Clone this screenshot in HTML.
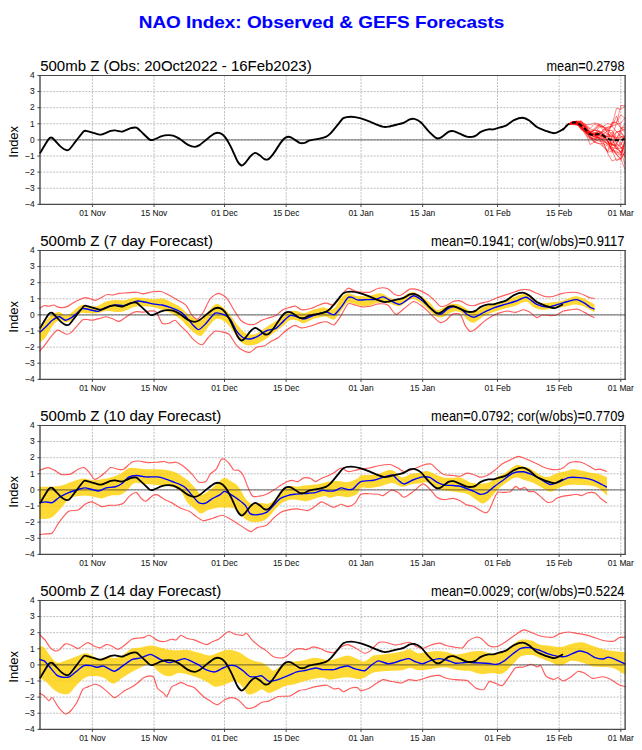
<!DOCTYPE html>
<html><head><meta charset="utf-8"><style>
html,body{margin:0;padding:0;background:#fff;}
svg{display:block;}
</style></head><body>
<svg width="642" height="750" viewBox="0 0 642 750">
<rect width="642" height="750" fill="#fff"/>
<text x="321.5" y="27.7" text-anchor="middle" font-family='"Liberation Sans", sans-serif' font-weight="bold" font-size="16.4" fill="#0000ff" stroke="#0000ff" stroke-width="0.1" textLength="365.5" lengthAdjust="spacingAndGlyphs">NAO Index: Observed &amp; GEFS Forecasts</text>
<g><path d="M40.0,188.24H625.1M40.0,172.12H625.1M40.0,156.01H625.1M40.0,139.90H625.1M40.0,123.79H625.1M40.0,107.68H625.1M40.0,91.56H625.1M92.40,75.5V204.4M154.05,75.5V204.4M224.50,75.5V204.4M286.15,75.5V204.4M361.00,75.5V204.4M422.65,75.5V204.4M497.51,75.5V204.4M559.15,75.5V204.4M620.80,75.5V204.4" stroke="#a8a8a8" stroke-width="0.75" stroke-dasharray="2,1.24" fill="none"/><path d="M563.20,129.18 L567.90,124.51 L572.50,122.69 L576.90,122.56 L581.30,123.03 L585.70,126.62 L590.10,134.36 L594.50,135.56 L598.90,137.61 L603.30,139.72 L607.70,143.15 L612.10,143.41 L616.50,131.49 L620.90,136.41 L625.00,138.72" stroke="#ff0000" stroke-opacity="0.8" stroke-width="0.6" fill="none"/><path d="M563.20,129.18 L567.90,124.51 L572.50,121.63 L576.90,121.09 L581.30,122.72 L585.70,127.61 L590.10,132.45 L594.50,133.90 L598.90,131.75 L603.30,134.10 L607.70,137.53 L612.10,131.85 L616.50,143.62 L620.90,146.46 L625.00,153.60" stroke="#ff0000" stroke-opacity="0.8" stroke-width="0.6" fill="none"/><path d="M563.20,129.18 L567.90,124.51 L572.50,122.61 L576.90,122.62 L581.30,127.00 L585.70,131.75 L590.10,135.58 L594.50,133.33 L598.90,131.49 L603.30,137.49 L607.70,136.11 L612.10,136.78 L616.50,139.51 L620.90,128.02 L625.00,127.12" stroke="#ff0000" stroke-opacity="0.8" stroke-width="0.6" fill="none"/><path d="M563.20,129.18 L567.90,124.51 L572.50,122.63 L576.90,122.64 L581.30,123.39 L585.70,128.76 L590.10,133.56 L594.50,130.04 L598.90,131.57 L603.30,135.36 L607.70,141.00 L612.10,150.04 L616.50,152.31 L620.90,152.09 L625.00,141.76" stroke="#ff0000" stroke-opacity="0.8" stroke-width="0.6" fill="none"/><path d="M563.20,129.18 L567.90,124.51 L572.50,122.54 L576.90,121.74 L581.30,122.11 L585.70,124.91 L590.10,133.09 L594.50,128.15 L598.90,123.96 L603.30,126.04 L607.70,133.66 L612.10,136.67 L616.50,123.11 L620.90,105.50 L625.00,105.69" stroke="#ff0000" stroke-opacity="0.8" stroke-width="0.6" fill="none"/><path d="M563.20,129.18 L567.90,124.51 L572.50,123.54 L576.90,124.39 L581.30,127.58 L585.70,132.32 L590.10,138.36 L594.50,142.49 L598.90,143.50 L603.30,146.69 L607.70,150.73 L612.10,138.71 L616.50,147.42 L620.90,153.05 L625.00,155.52" stroke="#ff0000" stroke-opacity="0.8" stroke-width="0.6" fill="none"/><path d="M563.20,129.18 L567.90,124.51 L572.50,123.44 L576.90,122.26 L581.30,124.60 L585.70,131.27 L590.10,132.95 L594.50,137.12 L598.90,137.95 L603.30,138.47 L607.70,141.62 L612.10,145.12 L616.50,145.71 L620.90,152.67 L625.00,146.80" stroke="#ff0000" stroke-opacity="0.8" stroke-width="0.6" fill="none"/><path d="M563.20,129.18 L567.90,124.51 L572.50,122.87 L576.90,122.34 L581.30,127.50 L585.70,135.29 L590.10,139.14 L594.50,135.83 L598.90,134.95 L603.30,135.47 L607.70,136.13 L612.10,144.92 L616.50,137.47 L620.90,145.24 L625.00,135.12" stroke="#ff0000" stroke-opacity="0.8" stroke-width="0.6" fill="none"/><path d="M563.20,129.18 L567.90,124.51 L572.50,123.64 L576.90,124.33 L581.30,127.99 L585.70,132.47 L590.10,137.81 L594.50,139.39 L598.90,138.40 L603.30,140.63 L607.70,144.77 L612.10,143.73 L616.50,148.82 L620.90,151.73 L625.00,164.57" stroke="#ff0000" stroke-opacity="0.8" stroke-width="0.6" fill="none"/><path d="M563.20,129.18 L567.90,124.51 L572.50,122.59 L576.90,122.67 L581.30,127.78 L585.70,131.06 L590.10,136.98 L594.50,141.71 L598.90,134.76 L603.30,131.38 L607.70,134.21 L612.10,135.95 L616.50,137.36 L620.90,133.29 L625.00,136.64" stroke="#ff0000" stroke-opacity="0.8" stroke-width="0.6" fill="none"/><path d="M563.20,129.18 L567.90,124.51 L572.50,124.55 L576.90,124.89 L581.30,126.30 L585.70,130.18 L590.10,134.57 L594.50,134.55 L598.90,127.19 L603.30,126.36 L607.70,132.24 L612.10,123.02 L616.50,122.29 L620.90,127.91 L625.00,132.67" stroke="#ff0000" stroke-opacity="0.8" stroke-width="0.6" fill="none"/><path d="M563.20,129.18 L567.90,124.51 L572.50,122.60 L576.90,122.45 L581.30,126.81 L585.70,133.66 L590.10,131.91 L594.50,134.78 L598.90,130.61 L603.30,134.46 L607.70,130.34 L612.10,130.53 L616.50,138.64 L620.90,136.53 L625.00,136.63" stroke="#ff0000" stroke-opacity="0.8" stroke-width="0.6" fill="none"/><path d="M563.20,129.18 L567.90,124.51 L572.50,122.79 L576.90,123.95 L581.30,129.37 L585.70,132.76 L590.10,144.58 L594.50,141.85 L598.90,143.59 L603.30,143.65 L607.70,146.03 L612.10,149.92 L616.50,151.22 L620.90,154.63 L625.00,142.70" stroke="#ff0000" stroke-opacity="0.8" stroke-width="0.6" fill="none"/><path d="M563.20,129.18 L567.90,124.51 L572.50,122.18 L576.90,121.54 L581.30,120.67 L585.70,127.96 L590.10,134.78 L594.50,138.61 L598.90,135.72 L603.30,136.84 L607.70,134.13 L612.10,138.45 L616.50,149.31 L620.90,142.02 L625.00,151.71" stroke="#ff0000" stroke-opacity="0.8" stroke-width="0.6" fill="none"/><path d="M563.20,129.18 L567.90,124.51 L572.50,121.47 L576.90,122.54 L581.30,125.10 L585.70,127.72 L590.10,133.67 L594.50,134.84 L598.90,138.04 L603.30,135.07 L607.70,141.47 L612.10,150.84 L616.50,160.75 L620.90,158.42 L625.00,151.98" stroke="#ff0000" stroke-opacity="0.8" stroke-width="0.6" fill="none"/><path d="M563.20,129.18 L567.90,124.51 L572.50,122.94 L576.90,124.02 L581.30,126.16 L585.70,124.54 L590.10,128.53 L594.50,124.04 L598.90,125.54 L603.30,127.93 L607.70,127.33 L612.10,126.22 L616.50,131.79 L620.90,131.29 L625.00,139.34" stroke="#ff0000" stroke-opacity="0.8" stroke-width="0.6" fill="none"/><path d="M563.20,129.18 L567.90,124.51 L572.50,123.90 L576.90,125.11 L581.30,126.23 L585.70,132.55 L590.10,132.82 L594.50,130.25 L598.90,124.80 L603.30,130.19 L607.70,127.12 L612.10,125.98 L616.50,124.38 L620.90,123.12 L625.00,117.74" stroke="#ff0000" stroke-opacity="0.8" stroke-width="0.6" fill="none"/><path d="M563.20,129.18 L567.90,124.51 L572.50,122.88 L576.90,123.34 L581.30,128.64 L585.70,132.27 L590.10,134.08 L594.50,132.83 L598.90,134.97 L603.30,129.50 L607.70,128.96 L612.10,134.97 L616.50,140.26 L620.90,139.26 L625.00,143.66" stroke="#ff0000" stroke-opacity="0.8" stroke-width="0.6" fill="none"/><path d="M563.20,129.18 L567.90,124.51 L572.50,121.76 L576.90,121.40 L581.30,126.50 L585.70,129.21 L590.10,131.91 L594.50,130.13 L598.90,125.75 L603.30,126.40 L607.70,123.53 L612.10,125.04 L616.50,108.26 L620.90,109.50 L625.00,105.50" stroke="#ff0000" stroke-opacity="0.8" stroke-width="0.6" fill="none"/><path d="M563.20,129.18 L567.90,124.51 L572.50,122.66 L576.90,121.18 L581.30,121.79 L585.70,126.65 L590.10,130.46 L594.50,132.55 L598.90,133.87 L603.30,137.65 L607.70,140.81 L612.10,149.10 L616.50,153.47 L620.90,155.57 L625.00,139.74" stroke="#ff0000" stroke-opacity="0.8" stroke-width="0.6" fill="none"/><path d="M563.20,129.18 L567.90,124.51 L572.50,122.64 L576.90,122.40 L581.30,130.05 L585.70,129.78 L590.10,135.91 L594.50,142.11 L598.90,139.25 L603.30,143.12 L607.70,152.52 L612.10,150.63 L616.50,154.30 L620.90,159.56 L625.00,151.99" stroke="#ff0000" stroke-opacity="0.8" stroke-width="0.6" fill="none"/><path d="M563.20,129.18 L567.90,124.51 L572.50,123.43 L576.90,123.49 L581.30,125.80 L585.70,127.39 L590.10,131.44 L594.50,133.82 L598.90,133.53 L603.30,131.23 L607.70,129.71 L612.10,147.34 L616.50,155.06 L620.90,158.46 L625.00,139.08" stroke="#ff0000" stroke-opacity="0.8" stroke-width="0.6" fill="none"/><path d="M563.20,129.18 L567.90,124.51 L572.50,124.03 L576.90,124.42 L581.30,127.05 L585.70,132.48 L590.10,132.57 L594.50,135.30 L598.90,135.56 L603.30,133.87 L607.70,141.03 L612.10,152.65 L616.50,142.57 L620.90,136.85 L625.00,137.65" stroke="#ff0000" stroke-opacity="0.8" stroke-width="0.6" fill="none"/><path d="M563.20,129.18 L567.90,124.51 L572.50,122.17 L576.90,123.74 L581.30,129.13 L585.70,130.27 L590.10,131.86 L594.50,136.26 L598.90,138.19 L603.30,146.59 L607.70,151.69 L612.10,144.54 L616.50,146.10 L620.90,129.92 L625.00,123.45" stroke="#ff0000" stroke-opacity="0.8" stroke-width="0.6" fill="none"/><path d="M563.20,129.18 L567.90,124.51 L572.50,122.34 L576.90,122.34 L581.30,126.29 L585.70,131.35 L590.10,137.90 L594.50,138.57 L598.90,137.21 L603.30,141.49 L607.70,143.54 L612.10,136.71 L616.50,132.07 L620.90,131.01 L625.00,129.01" stroke="#ff0000" stroke-opacity="0.8" stroke-width="0.6" fill="none"/><path d="M563.20,129.18 L567.90,124.51 L572.50,122.98 L576.90,122.97 L581.30,122.62 L585.70,127.80 L590.10,135.39 L594.50,136.62 L598.90,135.60 L603.30,138.50 L607.70,136.49 L612.10,122.17 L616.50,122.33 L620.90,114.76 L625.00,118.70" stroke="#ff0000" stroke-opacity="0.8" stroke-width="0.6" fill="none"/><path d="M563.20,129.18 L567.90,124.51 L572.50,122.12 L576.90,123.31 L581.30,125.16 L585.70,125.86 L590.10,128.91 L594.50,130.35 L598.90,131.05 L603.30,132.87 L607.70,140.66 L612.10,144.56 L616.50,144.16 L620.90,147.27 L625.00,157.62" stroke="#ff0000" stroke-opacity="0.8" stroke-width="0.6" fill="none"/><path d="M563.20,129.18 L567.90,124.51 L572.50,122.09 L576.90,122.08 L581.30,126.70 L585.70,130.08 L590.10,137.71 L594.50,139.34 L598.90,141.07 L603.30,141.34 L607.70,153.37 L612.10,161.01 L616.50,159.24 L620.90,158.82 L625.00,169.50" stroke="#ff0000" stroke-opacity="0.8" stroke-width="0.6" fill="none"/><path d="M563.20,129.18 L567.90,124.51 L572.50,123.54 L576.90,123.63 L581.30,123.51 L585.70,128.10 L590.10,133.96 L594.50,136.92 L598.90,138.34 L603.30,139.55 L607.70,144.82 L612.10,147.55 L616.50,148.74 L620.90,148.06 L625.00,145.12" stroke="#ff0000" stroke-opacity="0.8" stroke-width="0.6" fill="none"/><path d="M563.20,129.18 L567.90,124.51 L572.50,122.41 L576.90,122.50 L581.30,121.64 L585.70,124.67 L590.10,124.61 L594.50,123.04 L598.90,123.92 L603.30,127.30 L607.70,128.94 L612.10,126.27 L616.50,116.09 L620.90,127.83 L625.00,130.20" stroke="#ff0000" stroke-opacity="0.8" stroke-width="0.6" fill="none"/><path d="M40.0,139.90H625.1" stroke="#303030" stroke-opacity="0.7" stroke-width="1" fill="none"/><path d="M39.74,153.58 C40.76,151.93 47.01,141.21 48.46,139.38 C49.91,137.55 50.75,137.01 52.20,137.88 C53.65,138.75 59.26,145.43 60.92,146.85 C62.58,148.28 65.39,149.83 66.40,150.09 C67.42,150.36 68.54,150.14 69.64,149.10 C70.75,148.05 74.22,143.21 75.88,141.12 C77.53,139.03 82.40,132.29 83.85,131.15 C85.30,130.02 86.65,131.02 88.34,131.40 C90.02,131.78 96.71,134.04 98.31,134.39 C99.90,134.74 100.59,134.80 102.04,134.39 C103.50,133.99 109.23,131.37 110.77,130.90 C112.31,130.44 113.94,130.32 115.25,130.40 C116.56,130.49 120.18,131.91 121.98,131.65 C123.78,131.39 129.02,128.63 130.70,128.16 C132.39,127.70 135.27,127.31 136.44,127.66 C137.60,128.01 139.16,129.79 140.67,131.15 C142.18,132.52 147.94,138.36 149.40,139.38 C150.85,140.39 151.68,140.25 153.13,139.88 C154.59,139.50 160.11,136.69 161.86,136.14 C163.60,135.58 166.78,135.20 168.09,135.14 C169.40,135.08 171.76,135.23 173.07,135.64 C174.38,136.05 177.56,137.55 179.30,138.63 C181.05,139.71 186.20,143.90 188.02,144.86 C189.85,145.82 193.59,146.85 194.98,146.85 C196.38,146.85 198.52,145.82 199.97,144.86 C201.42,143.90 205.70,139.97 207.45,138.63 C209.19,137.29 213.47,134.04 214.92,133.40 C216.38,132.76 218.74,132.74 219.91,133.15 C221.07,133.55 223.58,135.23 224.89,136.88 C226.20,138.54 229.67,144.53 231.12,147.35 C232.58,150.17 236.13,158.94 237.35,161.06 C238.57,163.18 240.66,165.34 241.59,165.55 C242.52,165.75 244.28,163.91 245.33,162.80 C246.37,161.70 249.40,157.24 250.56,156.07 C251.72,154.91 254.22,152.92 255.30,152.83 C256.37,152.75 258.74,154.60 259.78,155.33 C260.83,156.05 263.25,158.63 264.27,159.07 C265.29,159.50 267.43,159.71 268.50,159.07 C269.58,158.43 272.04,155.53 273.49,153.58 C274.94,151.63 279.51,144.26 280.97,142.37 C282.42,140.48 284.79,137.96 285.95,137.38 C287.11,136.80 289.34,136.74 290.93,137.38 C292.53,138.02 298.06,142.23 299.66,142.87 C301.26,143.51 303.48,143.16 304.64,142.87 C305.80,142.58 307.88,140.87 309.63,140.37 C311.37,139.88 317.71,139.04 319.60,138.63 C321.48,138.22 324.52,137.52 325.83,136.88 C327.13,136.25 329.36,134.63 330.81,133.15 C332.26,131.66 336.83,125.92 338.29,124.17 C339.74,122.43 341.76,119.07 343.27,118.19 C344.78,117.32 349.27,116.70 351.21,116.70 C353.16,116.70 357.76,117.61 359.94,118.19 C362.12,118.77 367.87,120.90 369.91,121.68 C371.94,122.47 375.78,124.31 377.38,124.92 C378.98,125.53 382.31,126.71 383.61,126.92 C384.92,127.12 386.85,126.99 388.60,126.67 C390.34,126.35 396.82,124.61 398.57,124.17 C400.31,123.74 402.24,123.48 403.55,122.93 C404.86,122.38 408.53,119.90 409.78,119.44 C411.03,118.97 412.96,118.59 414.27,118.94 C415.58,119.29 419.34,121.01 421.00,122.43 C422.65,123.85 426.73,129.35 428.47,131.15 C430.22,132.96 434.58,137.10 435.95,137.88 C437.32,138.67 438.73,138.58 440.19,137.88 C441.64,137.18 446.87,132.69 448.41,131.90 C449.95,131.12 452.09,130.95 453.40,131.15 C454.70,131.36 458.09,133.01 459.63,133.64 C461.17,134.28 465.15,136.26 466.60,136.64 C468.06,137.01 471.01,137.00 472.09,136.88 C473.16,136.77 474.81,136.22 475.83,135.64 C476.84,135.06 479.36,132.63 480.81,131.90 C482.26,131.17 486.83,129.70 488.29,129.41 C489.74,129.12 492.18,129.55 493.27,129.41 C494.36,129.26 496.11,128.64 497.63,128.16 C499.16,127.68 504.45,126.27 506.35,125.32 C508.26,124.38 512.08,120.98 513.99,120.09 C515.89,119.20 520.93,117.64 522.71,117.69 C524.49,117.74 527.60,119.43 529.25,120.53 C530.90,121.62 534.97,125.87 536.88,127.07 C538.79,128.27 543.57,130.06 545.60,130.78 C547.64,131.49 552.29,133.35 554.33,133.17 C556.36,133.00 561.59,130.13 563.05,129.25 C564.50,128.37 566.36,126.03 566.80,125.60" stroke="#000" stroke-width="1.9" fill="none" stroke-linejoin="round"/><path d="M563.20,129.20 C563.20,129.20 562.64,129.75 563.18,129.21 C563.72,128.66 566.76,125.28 567.85,124.53 C568.94,123.78 571.57,123.03 572.52,122.78 C573.48,122.54 575.07,122.16 576.03,122.43 C576.98,122.70 579.61,124.33 580.70,125.12 C581.79,125.91 584.35,128.18 585.37,129.21 C586.40,130.23 588.51,133.20 589.46,133.88 C590.42,134.56 592.53,135.05 593.55,135.05 C594.57,135.05 597.27,133.95 598.22,133.88 C599.18,133.81 600.77,133.99 601.73,134.46 C602.68,134.94 605.31,137.35 606.40,137.97 C607.49,138.58 609.85,139.45 611.07,139.72 C612.30,139.99 615.69,140.30 616.92,140.30 C618.14,140.30 620.66,139.86 621.59,139.72 C622.52,139.58 624.48,139.20 624.86,139.14" stroke-dashoffset="-4.5" stroke="#000" stroke-width="2.0" stroke-dasharray="4.4,2.6" fill="none"/><path d="M40.00,74.90V204.90M625.10,74.90V204.90" stroke="#262626" stroke-width="1.15" fill="none"/><path d="M39.45,75.45H625.65M39.45,204.35H625.65" stroke="#484848" stroke-width="1.05" fill="none"/><path d="M37.4,204.35H40.0M37.4,188.24H40.0M37.4,172.12H40.0M37.4,156.01H40.0M37.4,139.90H40.0M37.4,123.79H40.0M37.4,107.68H40.0M37.4,91.56H40.0M37.4,75.45H40.0M92.40,204.4V207.0M154.05,204.4V207.0M224.50,204.4V207.0M286.15,204.4V207.0M361.00,204.4V207.0M422.65,204.4V207.0M497.51,204.4V207.0M559.15,204.4V207.0M620.80,204.4V207.0" stroke="#3a3a3a" stroke-width="0.9" fill="none"/><text x="34.7" y="207.15" text-anchor="end" font-family='"Liberation Sans", sans-serif' font-size="8.4" fill="#1a1a1a" stroke="#1a1a1a" stroke-width="0.08">−4</text><text x="34.7" y="191.04" text-anchor="end" font-family='"Liberation Sans", sans-serif' font-size="8.4" fill="#1a1a1a" stroke="#1a1a1a" stroke-width="0.08">−3</text><text x="34.7" y="174.93" text-anchor="end" font-family='"Liberation Sans", sans-serif' font-size="8.4" fill="#1a1a1a" stroke="#1a1a1a" stroke-width="0.08">−2</text><text x="34.7" y="158.81" text-anchor="end" font-family='"Liberation Sans", sans-serif' font-size="8.4" fill="#1a1a1a" stroke="#1a1a1a" stroke-width="0.08">−1</text><text x="34.7" y="142.70" text-anchor="end" font-family='"Liberation Sans", sans-serif' font-size="8.4" fill="#1a1a1a" stroke="#1a1a1a" stroke-width="0.08">0</text><text x="34.7" y="126.59" text-anchor="end" font-family='"Liberation Sans", sans-serif' font-size="8.4" fill="#1a1a1a" stroke="#1a1a1a" stroke-width="0.08">1</text><text x="34.7" y="110.48" text-anchor="end" font-family='"Liberation Sans", sans-serif' font-size="8.4" fill="#1a1a1a" stroke="#1a1a1a" stroke-width="0.08">2</text><text x="34.7" y="94.36" text-anchor="end" font-family='"Liberation Sans", sans-serif' font-size="8.4" fill="#1a1a1a" stroke="#1a1a1a" stroke-width="0.08">3</text><text x="34.7" y="78.25" text-anchor="end" font-family='"Liberation Sans", sans-serif' font-size="8.4" fill="#1a1a1a" stroke="#1a1a1a" stroke-width="0.08">4</text><text x="92.40" y="215.85" text-anchor="middle" font-family='"Liberation Sans", sans-serif' font-size="8.4" fill="#1a1a1a" stroke="#1a1a1a" stroke-width="0.08">01 Nov</text><text x="154.05" y="215.85" text-anchor="middle" font-family='"Liberation Sans", sans-serif' font-size="8.4" fill="#1a1a1a" stroke="#1a1a1a" stroke-width="0.08">15 Nov</text><text x="224.50" y="215.85" text-anchor="middle" font-family='"Liberation Sans", sans-serif' font-size="8.4" fill="#1a1a1a" stroke="#1a1a1a" stroke-width="0.08">01 Dec</text><text x="286.15" y="215.85" text-anchor="middle" font-family='"Liberation Sans", sans-serif' font-size="8.4" fill="#1a1a1a" stroke="#1a1a1a" stroke-width="0.08">15 Dec</text><text x="361.00" y="215.85" text-anchor="middle" font-family='"Liberation Sans", sans-serif' font-size="8.4" fill="#1a1a1a" stroke="#1a1a1a" stroke-width="0.08">01 Jan</text><text x="422.65" y="215.85" text-anchor="middle" font-family='"Liberation Sans", sans-serif' font-size="8.4" fill="#1a1a1a" stroke="#1a1a1a" stroke-width="0.08">15 Jan</text><text x="497.51" y="215.85" text-anchor="middle" font-family='"Liberation Sans", sans-serif' font-size="8.4" fill="#1a1a1a" stroke="#1a1a1a" stroke-width="0.08">01 Feb</text><text x="559.15" y="215.85" text-anchor="middle" font-family='"Liberation Sans", sans-serif' font-size="8.4" fill="#1a1a1a" stroke="#1a1a1a" stroke-width="0.08">15 Feb</text><text x="620.80" y="215.85" text-anchor="middle" font-family='"Liberation Sans", sans-serif' font-size="8.4" fill="#1a1a1a" stroke="#1a1a1a" stroke-width="0.08">01 Mar</text><text x="40.2" y="70.95" font-family='"Liberation Sans", sans-serif' font-size="14.8" fill="#000" stroke="#000" stroke-width="0.05" textLength="271.5" lengthAdjust="spacingAndGlyphs">500mb Z (Obs: 20Oct2022 - 16Feb2023)</text><text x="546.50" y="70.75" font-family='"Liberation Sans", sans-serif' font-size="14.8" fill="#000" stroke="#000" stroke-width="0.05" textLength="78.0" lengthAdjust="spacingAndGlyphs">mean=0.2798</text><text x="0" y="0" transform="translate(18.3,141.80) rotate(-90)" text-anchor="middle" font-family='"Liberation Sans", sans-serif' font-size="13.6" fill="#000" textLength="31.8" lengthAdjust="spacingAndGlyphs">Index</text></g>
<g><path d="M40.0,363.24H625.1M40.0,347.12H625.1M40.0,331.01H625.1M40.0,314.90H625.1M40.0,298.79H625.1M40.0,282.68H625.1M40.0,266.56H625.1M92.40,250.4V379.4M154.05,250.4V379.4M224.50,250.4V379.4M286.15,250.4V379.4M361.00,250.4V379.4M422.65,250.4V379.4M497.51,250.4V379.4M559.15,250.4V379.4M620.80,250.4V379.4" stroke="#a8a8a8" stroke-width="0.75" stroke-dasharray="2,1.24" fill="none"/><path d="M39.50,330.75 C40.48,329.19 43.20,324.13 45.35,321.40 C47.49,318.68 50.02,315.95 52.36,314.39 C54.69,312.83 57.03,311.86 59.36,312.06 C61.70,312.25 64.04,315.76 66.37,315.56 C68.71,315.37 70.85,312.64 73.38,310.89 C75.91,309.14 79.22,305.83 81.56,305.05 C83.90,304.27 84.87,306.02 87.40,306.21 C89.93,306.41 93.63,306.99 96.75,306.21 C99.86,305.44 102.98,302.59 106.09,301.54 C109.21,300.49 112.32,300.10 115.44,299.91 C118.55,299.71 121.67,300.76 124.79,300.37 C127.90,299.98 131.02,297.96 134.13,297.57 C137.25,297.18 140.36,297.76 143.48,298.04 C146.59,298.31 149.71,299.13 152.82,299.21 C155.94,299.28 159.05,298.00 162.17,298.50 C165.28,299.01 168.40,300.76 171.51,302.24 C174.63,303.72 178.28,305.55 180.86,307.38 C183.44,309.21 184.82,311.47 187.01,313.22 C189.20,314.98 191.68,316.73 194.02,317.90 C196.36,319.07 198.69,321.21 201.03,320.23 C203.36,319.26 205.51,314.78 208.04,312.06 C210.57,309.33 213.49,304.46 216.21,303.88 C218.94,303.29 221.86,306.41 224.39,308.55 C226.92,310.69 229.07,313.81 231.40,316.73 C233.74,319.65 236.07,323.35 238.41,326.07 C240.75,328.80 242.69,331.72 245.42,333.08 C248.15,334.45 251.65,335.03 254.77,334.25 C257.88,333.47 261.00,330.36 264.11,328.41 C267.23,326.46 270.34,324.52 273.46,322.57 C276.57,320.62 280.08,318.56 282.80,316.73 C285.53,314.90 287.48,312.56 289.81,311.59 C292.15,310.62 294.49,310.62 296.82,310.89 C299.16,311.16 301.11,313.42 303.83,313.22 C306.56,313.03 310.06,310.69 313.18,309.72 C316.29,308.75 320.22,307.58 322.52,307.38 C324.83,307.19 325.09,308.36 327.01,308.55 C328.93,308.75 331.68,310.30 334.02,308.55 C336.36,306.80 338.69,300.57 341.03,298.04 C343.36,295.51 345.70,293.75 348.04,293.36 C350.37,292.98 352.71,295.23 355.05,295.70 C357.38,296.17 359.52,296.17 362.06,296.17 C364.59,296.17 367.12,296.17 370.23,295.70 C373.35,295.23 377.44,292.98 380.75,293.36 C384.06,293.75 386.98,297.06 390.09,298.04 C393.21,299.01 395.93,300.18 399.44,299.21 C402.94,298.23 407.62,292.78 411.12,292.20 C414.63,291.61 417.35,293.95 420.47,295.70 C423.58,297.45 427.09,300.37 429.81,302.71 C432.54,305.05 434.49,308.94 436.82,309.72 C439.16,310.50 441.30,308.36 443.83,307.38 C446.36,306.41 449.28,304.27 452.01,303.88 C454.74,303.49 457.53,304.07 460.19,305.05 C462.84,306.02 465.55,308.59 467.94,309.72 C470.34,310.86 471.92,312.28 474.57,311.84 C477.21,311.40 480.52,308.53 483.83,307.08 C487.15,305.62 490.90,304.21 494.43,303.10 C497.96,302.00 501.49,301.56 505.02,300.46 C508.55,299.35 512.08,297.59 515.61,296.48 C519.15,295.38 523.12,293.39 526.21,293.83 C529.30,294.28 531.50,297.59 534.15,299.13 C536.80,300.68 539.01,302.57 542.10,303.10 C545.19,303.63 549.16,302.75 552.69,302.31 C556.22,301.87 559.75,301.43 563.28,300.46 C566.81,299.48 570.79,296.92 573.88,296.48 C576.97,296.04 579.17,296.92 581.82,297.81 C584.47,298.69 587.65,300.68 589.77,301.78 C591.89,302.88 593.74,303.99 594.53,304.43 L594.53,312.37 C593.74,311.93 591.89,310.83 589.77,309.72 C587.65,308.62 584.47,306.63 581.82,305.75 C579.17,304.87 576.97,304.21 573.88,304.43 C570.79,304.65 566.81,306.41 563.28,307.08 C559.75,307.74 556.22,307.96 552.69,308.40 C549.16,308.84 545.19,309.86 542.10,309.72 C539.01,309.59 536.80,308.93 534.15,307.61 C531.50,306.28 529.30,302.09 526.21,301.78 C523.12,301.47 519.15,304.65 515.61,305.75 C512.08,306.86 508.55,307.39 505.02,308.40 C501.49,309.42 497.96,310.52 494.43,311.84 C490.90,313.17 487.15,314.58 483.83,316.35 C480.52,318.11 477.21,321.77 474.57,322.44 C471.92,323.10 470.34,322.05 467.94,320.32 C465.55,318.59 462.84,313.43 460.19,312.06 C457.53,310.68 454.74,311.28 452.01,312.06 C449.28,312.83 446.36,315.95 443.83,316.73 C441.30,317.51 439.16,317.70 436.82,316.73 C434.49,315.76 432.54,313.22 429.81,310.89 C427.09,308.55 423.58,304.66 420.47,302.71 C417.35,300.76 414.63,298.62 411.12,299.21 C407.62,299.79 403.33,305.63 399.44,306.21 C395.55,306.80 391.26,303.29 387.76,302.71 C384.25,302.13 381.92,302.13 378.41,302.71 C374.91,303.29 370.23,305.83 366.73,306.21 C363.22,306.60 360.50,305.63 357.38,305.05 C354.27,304.46 350.76,301.74 348.04,302.71 C345.31,303.68 343.36,308.08 341.03,310.89 C338.69,313.69 336.36,318.56 334.02,319.53 C331.68,320.51 328.93,317.20 327.01,316.73 C325.09,316.26 324.83,316.34 322.52,316.73 C320.22,317.12 316.29,317.98 313.18,319.07 C310.06,320.16 306.56,323.08 303.83,323.27 C301.11,323.47 299.16,320.74 296.82,320.23 C294.49,319.73 292.15,319.26 289.81,320.23 C287.48,321.21 285.53,323.93 282.80,326.07 C280.08,328.22 276.57,330.75 273.46,333.08 C270.34,335.42 267.23,338.15 264.11,340.09 C261.00,342.04 257.88,343.99 254.77,344.77 C251.65,345.55 248.15,345.74 245.42,344.77 C242.69,343.79 240.75,341.65 238.41,338.93 C236.07,336.20 233.74,331.33 231.40,328.41 C229.07,325.49 226.92,322.96 224.39,321.40 C221.86,319.84 218.94,318.09 216.21,319.07 C213.49,320.04 210.57,324.44 208.04,327.24 C205.51,330.05 203.36,334.99 201.03,335.89 C198.69,336.78 196.36,334.25 194.02,332.62 C191.68,330.98 189.20,328.26 187.01,326.07 C184.82,323.89 183.44,321.67 180.86,319.53 C178.28,317.39 174.63,314.86 171.51,313.22 C168.40,311.59 165.28,310.77 162.17,309.72 C159.05,308.67 155.94,307.50 152.82,306.92 C149.71,306.33 146.59,306.21 143.48,306.21 C140.36,306.21 137.25,306.14 134.13,306.92 C131.02,307.69 127.90,310.03 124.79,310.89 C121.67,311.74 118.55,312.06 115.44,312.06 C112.32,312.06 109.21,310.69 106.09,310.89 C102.98,311.08 99.86,312.83 96.75,313.22 C93.63,313.61 90.13,313.22 87.40,313.22 C84.68,313.22 82.73,312.25 80.39,313.22 C78.06,314.20 75.72,317.51 73.38,319.07 C71.05,320.62 68.71,322.38 66.37,322.57 C64.04,322.76 61.70,319.65 59.36,320.23 C57.03,320.82 54.69,323.15 52.36,326.07 C50.02,329.00 47.49,335.03 45.35,337.76 C43.20,340.48 40.48,341.65 39.50,342.43 Z" fill="#ffd000" fill-opacity="0.8" stroke="none"/><path d="M39.50,308.55 C40.05,308.20 43.09,305.79 44.18,305.51 C45.27,305.24 47.76,306.27 48.85,306.21 C49.94,306.16 52.30,304.91 53.52,305.05 C54.75,305.18 57.87,307.17 59.36,307.38 C60.86,307.60 64.74,307.46 66.37,306.92 C68.01,306.37 71.75,303.61 73.38,302.71 C75.02,301.81 79.03,299.81 80.39,299.21 C81.76,298.61 83.98,297.65 85.07,297.57 C86.16,297.49 88.51,298.18 89.74,298.50 C90.96,298.83 94.22,300.48 95.58,300.37 C96.94,300.26 100.06,298.25 101.42,297.57 C102.78,296.89 105.90,294.83 107.26,294.53 C108.62,294.23 111.74,295.14 113.10,295.00 C114.47,294.86 117.31,293.61 118.94,293.36 C120.58,293.12 125.08,293.03 127.12,292.90 C129.17,292.76 134.56,292.09 136.47,292.20 C138.38,292.31 141.57,293.89 143.48,293.83 C145.38,293.78 150.78,292.00 152.82,291.73 C154.87,291.46 159.36,291.22 161.00,291.50 C162.64,291.77 165.07,293.17 166.84,294.07 C168.61,294.96 173.97,297.92 176.19,299.21 C178.40,300.49 184.03,303.22 185.84,305.05 C187.65,306.87 190.32,313.22 191.68,314.86 C193.05,316.50 196.16,319.39 197.52,319.07 C198.89,318.74 201.87,314.45 203.36,312.06 C204.86,309.66 208.60,300.69 210.37,298.50 C212.15,296.32 216.64,293.42 218.55,293.36 C220.46,293.31 224.96,296.13 226.73,298.04 C228.50,299.95 232.10,307.13 233.74,309.72 C235.37,312.31 239.11,318.54 240.75,320.23 C242.38,321.92 246.12,323.74 247.76,324.21 C249.39,324.67 253.13,324.67 254.77,324.21 C256.40,323.74 260.14,320.97 261.78,320.23 C263.41,319.50 267.15,318.44 268.79,317.90 C270.42,317.35 274.16,316.51 275.79,315.56 C277.43,314.61 281.17,310.67 282.80,309.72 C284.44,308.77 288.31,307.79 289.81,307.38 C291.31,306.97 294.29,305.94 295.65,306.21 C297.02,306.49 299.72,309.45 301.50,309.72 C303.27,309.99 308.93,309.04 310.84,308.55 C312.75,308.06 316.35,306.11 317.85,305.51 C319.35,304.91 322.62,303.68 323.69,303.41 C324.76,303.14 325.80,302.99 327.01,303.18 C328.21,303.37 332.38,305.92 334.02,305.05 C335.65,304.17 339.39,297.66 341.03,295.70 C342.66,293.74 346.40,288.77 348.04,288.22 C349.67,287.68 353.41,290.56 355.05,291.03 C356.68,291.49 360.28,292.06 362.06,292.20 C363.83,292.33 368.33,292.66 370.23,292.20 C372.14,291.73 376.37,288.63 378.41,288.22 C380.46,287.82 385.85,287.96 387.76,288.69 C389.67,289.43 393.27,293.77 394.77,294.53 C396.27,295.30 398.84,295.86 400.61,295.23 C402.38,294.61 407.91,289.79 409.95,289.16 C412.00,288.53 416.09,289.23 418.13,289.86 C420.18,290.49 425.57,293.31 427.48,294.53 C429.38,295.76 432.99,299.01 434.49,300.37 C435.99,301.74 438.96,305.62 440.33,306.21 C441.69,306.81 444.67,306.06 446.17,305.51 C447.67,304.97 451.54,302.09 453.18,301.54 C454.81,301.00 458.62,300.50 460.19,300.84 C461.76,301.18 465.10,303.86 466.62,304.43 C468.14,305.00 471.54,305.91 473.24,305.75 C474.94,305.60 479.33,303.63 481.19,303.10 C483.04,302.58 487.28,301.87 489.13,301.25 C490.99,300.63 495.22,298.52 497.08,297.81 C498.93,297.10 503.17,295.78 505.02,295.16 C506.88,294.54 511.11,293.13 512.97,292.51 C514.82,291.89 519.06,290.17 520.91,289.86 C522.76,289.55 527.00,289.46 528.86,289.86 C530.71,290.26 534.95,292.53 536.80,293.31 C538.65,294.08 542.89,296.11 544.75,296.48 C546.60,296.85 550.84,296.79 552.69,296.48 C554.54,296.17 558.78,294.30 560.64,293.83 C562.49,293.37 566.73,292.67 568.58,292.51 C570.43,292.36 574.67,292.20 576.53,292.51 C578.38,292.82 582.93,294.54 584.47,295.16 C586.02,295.78 588.59,297.44 589.77,297.81 C590.94,298.18 593.98,298.28 594.53,298.34" stroke="#ff4040" stroke-opacity="0.85" stroke-width="1.15" fill="none"/><path d="M39.50,351.31 C40.19,350.49 44.12,345.88 45.35,344.30 C46.57,342.72 48.66,339.39 50.02,337.76 C51.38,336.12 55.67,330.96 57.03,330.28 C58.39,329.60 60.61,331.45 61.70,331.92 C62.79,332.38 65.28,334.17 66.37,334.25 C67.46,334.33 69.82,333.57 71.05,332.62 C72.27,331.66 75.52,327.57 76.89,326.07 C78.25,324.58 81.50,320.53 82.73,319.77 C83.96,319.00 86.31,319.48 87.40,319.53 C88.49,319.59 90.71,320.34 92.07,320.23 C93.44,320.12 97.45,319.01 99.08,318.60 C100.72,318.19 104.46,316.67 106.09,316.73 C107.73,316.78 111.60,318.52 113.10,319.07 C114.60,319.61 117.58,321.54 118.94,321.40 C120.31,321.27 123.29,318.85 124.79,317.90 C126.28,316.94 130.43,313.96 131.79,313.22 C133.16,312.49 135.10,311.73 136.47,311.59 C137.83,311.45 141.84,312.14 143.48,312.06 C145.11,311.97 148.99,310.89 150.49,310.89 C151.99,310.89 154.96,310.61 156.33,312.06 C157.69,313.50 160.67,321.96 162.17,323.27 C163.67,324.58 167.68,323.63 169.18,323.27 C170.68,322.92 173.66,319.91 175.02,320.23 C176.38,320.56 179.46,324.71 180.86,326.07 C182.26,327.44 185.47,330.28 187.01,331.92 C188.54,333.55 192.25,338.59 194.02,340.09 C195.79,341.59 200.56,345.04 202.20,344.77 C203.83,344.49 206.54,339.34 208.04,337.76 C209.54,336.18 213.41,331.90 215.05,331.21 C216.68,330.53 220.42,331.56 222.06,331.92 C223.69,332.27 227.43,332.75 229.07,334.25 C230.70,335.75 234.44,342.86 236.07,344.77 C237.71,346.67 241.45,349.74 243.08,350.61 C244.72,351.48 248.46,352.65 250.09,352.24 C251.73,351.83 255.47,347.84 257.10,347.10 C258.74,346.37 262.48,346.62 264.11,345.93 C265.75,345.25 269.49,342.22 271.12,341.26 C272.76,340.31 276.50,338.93 278.13,337.76 C279.77,336.58 283.23,332.66 285.14,331.21 C287.05,329.77 292.58,325.76 294.49,325.37 C296.39,324.99 299.59,327.86 301.50,327.94 C303.40,328.03 308.66,326.70 310.84,326.07 C313.02,325.45 318.30,323.06 320.19,322.57 C322.07,322.08 325.40,321.60 327.01,321.87 C328.62,322.14 332.38,325.64 334.02,324.91 C335.65,324.17 339.39,318.01 341.03,315.56 C342.66,313.11 346.40,305.11 348.04,303.88 C349.67,302.65 353.41,304.69 355.05,305.05 C356.68,305.40 360.28,306.78 362.06,306.92 C363.83,307.05 368.33,306.57 370.23,306.21 C372.14,305.86 376.37,304.01 378.41,303.88 C380.46,303.74 385.71,303.82 387.76,305.05 C389.80,306.27 394.03,313.98 395.93,314.39 C397.84,314.80 402.07,310.05 404.11,308.55 C406.16,307.05 411.55,301.95 413.46,301.54 C415.37,301.13 418.83,303.96 420.47,305.05 C422.10,306.14 425.84,309.39 427.48,310.89 C429.11,312.39 432.99,316.53 434.49,317.90 C435.99,319.26 438.96,322.30 440.33,322.57 C441.69,322.84 444.81,321.19 446.17,320.23 C447.53,319.28 450.37,315.07 452.01,314.39 C453.64,313.71 458.64,313.08 460.19,314.39 C461.74,315.70 464.08,323.63 465.30,325.61 C466.51,327.60 469.36,331.07 470.59,331.44 C471.83,331.81 474.34,329.94 475.89,328.79 C477.43,327.65 481.98,323.09 483.83,321.64 C485.69,320.19 489.93,317.36 491.78,316.35 C493.63,315.33 497.87,313.52 499.72,312.90 C501.58,312.28 505.82,311.11 507.67,311.05 C509.52,310.99 513.76,312.53 515.61,312.37 C517.47,312.22 521.86,309.72 523.56,309.72 C525.26,309.72 528.64,311.45 530.18,312.37 C531.72,313.30 535.41,317.36 536.80,317.67 C538.19,317.98 540.55,315.27 542.10,315.02 C543.64,314.77 548.34,315.55 550.04,315.55 C551.74,315.55 555.12,315.55 556.66,315.02 C558.21,314.50 561.58,311.67 563.28,311.05 C564.98,310.43 569.53,309.94 571.23,309.72 C572.93,309.51 576.30,308.89 577.85,309.19 C579.39,309.50 583.08,311.63 584.47,312.37 C585.86,313.11 588.59,314.93 589.77,315.55 C590.94,316.17 593.98,317.42 594.53,317.67" stroke="#ff4040" stroke-opacity="0.85" stroke-width="1.15" fill="none"/><path d="M40.0,314.90H625.1" stroke="#303030" stroke-opacity="0.7" stroke-width="1" fill="none"/><path d="M39.50,332.62 C40.19,331.99 43.85,328.69 45.35,327.24 C46.85,325.80 50.72,321.46 52.36,320.23 C53.99,319.01 57.87,316.73 59.36,316.73 C60.86,316.73 63.84,320.10 65.21,320.23 C66.57,320.37 69.68,318.71 71.05,317.90 C72.41,317.08 75.52,314.31 76.89,313.22 C78.25,312.13 81.23,308.96 82.73,308.55 C84.23,308.14 87.97,309.39 89.74,309.72 C91.51,310.05 96.01,311.63 97.92,311.36 C99.82,311.08 104.05,308.12 106.09,307.38 C108.14,306.65 113.26,305.26 115.44,305.05 C117.62,304.83 122.33,305.98 124.79,305.51 C127.24,305.05 134.01,301.46 136.47,301.07 C138.92,300.69 143.90,301.92 145.81,302.24 C147.72,302.57 150.91,303.55 152.82,303.88 C154.73,304.21 159.99,304.58 162.17,305.05 C164.35,305.51 169.33,307.03 171.51,307.85 C173.69,308.67 179.05,310.88 180.86,312.06 C182.67,313.23 185.61,316.40 187.01,317.90 C188.41,319.40 191.49,323.54 192.85,324.91 C194.21,326.27 197.19,329.72 198.69,329.58 C200.19,329.44 203.79,325.65 205.70,323.74 C207.61,321.83 213.00,314.31 215.05,313.22 C217.09,312.13 221.45,313.71 223.22,314.39 C225.00,315.07 228.73,317.21 230.23,319.07 C231.73,320.92 234.58,328.10 236.07,330.28 C237.57,332.46 241.45,336.75 243.08,337.76 C244.72,338.77 248.46,339.06 250.09,338.93 C251.73,338.79 255.19,337.54 257.10,336.59 C259.01,335.63 264.27,331.70 266.45,330.75 C268.63,329.79 273.89,329.45 275.79,328.41 C277.70,327.38 281.17,323.37 282.80,321.87 C284.44,320.37 288.18,316.16 289.81,315.56 C291.45,314.96 295.19,316.32 296.82,316.73 C298.46,317.14 301.92,319.20 303.83,319.07 C305.74,318.93 311.00,316.30 313.18,315.56 C315.36,314.82 320.91,313.17 322.52,312.76 C324.14,312.35 325.67,311.81 327.01,312.06 C328.35,312.30 332.38,315.40 334.02,314.86 C335.65,314.31 339.39,309.40 341.03,307.38 C342.66,305.37 346.67,298.71 348.04,297.57 C349.40,296.43 351.62,297.30 352.71,297.57 C353.80,297.84 355.75,299.66 357.38,299.91 C359.02,300.15 364.55,299.75 366.73,299.67 C368.91,299.59 374.17,299.53 376.07,299.21 C377.98,298.88 381.45,296.73 383.08,296.87 C384.72,297.01 388.19,299.50 390.09,300.37 C392.00,301.25 397.53,304.35 399.44,304.35 C401.35,304.35 404.81,301.38 406.45,300.37 C408.08,299.37 411.82,295.84 413.46,295.70 C415.09,295.56 418.56,297.84 420.47,299.21 C422.38,300.57 427.90,305.75 429.81,307.38 C431.72,309.02 435.46,312.46 436.82,313.22 C438.19,313.99 440.27,314.39 441.50,313.93 C442.72,313.46 445.97,310.07 447.34,309.25 C448.70,308.43 451.68,307.00 453.18,306.92 C454.68,306.83 458.46,307.61 460.19,308.55 C461.91,309.50 466.27,314.02 467.94,315.02 C469.62,316.02 472.71,317.45 474.57,317.14 C476.42,316.83 481.52,313.49 483.83,312.37 C486.15,311.26 491.96,308.53 494.43,307.61 C496.90,306.68 502.55,305.17 505.02,304.43 C507.49,303.69 513.14,302.08 515.61,301.25 C518.09,300.42 523.74,296.91 526.21,297.28 C528.68,297.65 534.33,303.28 536.80,304.43 C539.27,305.57 544.92,307.08 547.39,307.08 C549.87,307.08 555.52,305.11 557.99,304.43 C560.46,303.75 566.42,301.81 568.58,301.25 C570.74,300.69 574.67,299.44 576.53,299.66 C578.38,299.88 582.93,302.24 584.47,303.10 C586.02,303.97 588.59,306.37 589.77,307.08 C590.94,307.79 593.98,308.95 594.53,309.19" stroke="#0000ff" stroke-width="1.4" fill="none"/><path d="M39.74,328.58 C40.76,326.93 47.01,316.21 48.46,314.38 C49.91,312.55 50.75,312.01 52.20,312.88 C53.65,313.75 59.26,320.43 60.92,321.85 C62.58,323.28 65.39,324.83 66.40,325.09 C67.42,325.36 68.54,325.14 69.64,324.10 C70.75,323.05 74.22,318.21 75.88,316.12 C77.53,314.03 82.40,307.29 83.85,306.15 C85.30,305.02 86.65,306.02 88.34,306.40 C90.02,306.78 96.71,309.04 98.31,309.39 C99.90,309.74 100.59,309.80 102.04,309.39 C103.50,308.99 109.23,306.37 110.77,305.90 C112.31,305.44 113.94,305.32 115.25,305.40 C116.56,305.49 120.18,306.91 121.98,306.65 C123.78,306.39 129.02,303.63 130.70,303.16 C132.39,302.70 135.27,302.31 136.44,302.66 C137.60,303.01 139.16,304.79 140.67,306.15 C142.18,307.52 147.94,313.36 149.40,314.38 C150.85,315.39 151.68,315.25 153.13,314.88 C154.59,314.50 160.11,311.69 161.86,311.14 C163.60,310.58 166.78,310.20 168.09,310.14 C169.40,310.08 171.76,310.23 173.07,310.64 C174.38,311.05 177.56,312.55 179.30,313.63 C181.05,314.71 186.20,318.90 188.02,319.86 C189.85,320.82 193.59,321.85 194.98,321.85 C196.38,321.85 198.52,320.82 199.97,319.86 C201.42,318.90 205.70,314.97 207.45,313.63 C209.19,312.29 213.47,309.04 214.92,308.40 C216.38,307.76 218.74,307.74 219.91,308.15 C221.07,308.55 223.58,310.23 224.89,311.88 C226.20,313.54 229.67,319.53 231.12,322.35 C232.58,325.17 236.13,333.94 237.35,336.06 C238.57,338.18 240.66,340.34 241.59,340.55 C242.52,340.75 244.28,338.91 245.33,337.80 C246.37,336.70 249.40,332.24 250.56,331.07 C251.72,329.91 254.22,327.92 255.30,327.83 C256.37,327.75 258.74,329.60 259.78,330.33 C260.83,331.05 263.25,333.63 264.27,334.07 C265.29,334.50 267.43,334.71 268.50,334.07 C269.58,333.43 272.04,330.53 273.49,328.58 C274.94,326.63 279.51,319.26 280.97,317.37 C282.42,315.48 284.79,312.96 285.95,312.38 C287.11,311.80 289.34,311.74 290.93,312.38 C292.53,313.02 298.06,317.23 299.66,317.87 C301.26,318.51 303.48,318.16 304.64,317.87 C305.80,317.58 307.88,315.87 309.63,315.37 C311.37,314.88 317.71,314.04 319.60,313.63 C321.48,313.22 324.52,312.52 325.83,311.88 C327.13,311.25 329.36,309.63 330.81,308.15 C332.26,306.66 336.83,300.92 338.29,299.17 C339.74,297.43 341.76,294.07 343.27,293.19 C344.78,292.32 349.27,291.70 351.21,291.70 C353.16,291.70 357.76,292.61 359.94,293.19 C362.12,293.77 367.87,295.90 369.91,296.68 C371.94,297.47 375.78,299.31 377.38,299.92 C378.98,300.53 382.31,301.71 383.61,301.92 C384.92,302.12 386.85,301.99 388.60,301.67 C390.34,301.35 396.82,299.61 398.57,299.17 C400.31,298.74 402.24,298.48 403.55,297.93 C404.86,297.38 408.53,294.90 409.78,294.44 C411.03,293.97 412.96,293.59 414.27,293.94 C415.58,294.29 419.34,296.01 421.00,297.43 C422.65,298.85 426.73,304.35 428.47,306.15 C430.22,307.96 434.58,312.10 435.95,312.88 C437.32,313.67 438.73,313.58 440.19,312.88 C441.64,312.18 446.87,307.69 448.41,306.90 C449.95,306.12 452.09,305.95 453.40,306.15 C454.70,306.36 458.09,308.01 459.63,308.64 C461.17,309.28 465.15,311.26 466.60,311.64 C468.06,312.01 471.01,312.00 472.09,311.88 C473.16,311.77 474.81,311.22 475.83,310.64 C476.84,310.06 479.36,307.63 480.81,306.90 C482.26,306.17 486.83,304.70 488.29,304.41 C489.74,304.12 492.18,304.55 493.27,304.41 C494.36,304.26 496.11,303.64 497.63,303.16 C499.16,302.68 504.45,301.27 506.35,300.32 C508.26,299.38 512.08,295.98 513.99,295.09 C515.89,294.20 520.93,292.64 522.71,292.69 C524.49,292.74 527.60,294.43 529.25,295.53 C530.90,296.62 534.97,300.87 536.88,302.07 C538.79,303.27 543.57,305.06 545.60,305.78 C547.64,306.49 552.29,308.35 554.33,308.17 C556.36,308.00 562.03,304.71 563.05,304.25" stroke="#000" stroke-width="1.8" fill="none" stroke-linejoin="round"/><path d="M40.00,249.90V379.90M625.10,249.90V379.90" stroke="#262626" stroke-width="1.15" fill="none"/><path d="M39.45,250.45H625.65M39.45,379.35H625.65" stroke="#484848" stroke-width="1.05" fill="none"/><path d="M37.4,379.35H40.0M37.4,363.24H40.0M37.4,347.12H40.0M37.4,331.01H40.0M37.4,314.90H40.0M37.4,298.79H40.0M37.4,282.68H40.0M37.4,266.56H40.0M37.4,250.45H40.0M92.40,379.4V382.0M154.05,379.4V382.0M224.50,379.4V382.0M286.15,379.4V382.0M361.00,379.4V382.0M422.65,379.4V382.0M497.51,379.4V382.0M559.15,379.4V382.0M620.80,379.4V382.0" stroke="#3a3a3a" stroke-width="0.9" fill="none"/><text x="34.7" y="382.15" text-anchor="end" font-family='"Liberation Sans", sans-serif' font-size="8.4" fill="#1a1a1a" stroke="#1a1a1a" stroke-width="0.08">−4</text><text x="34.7" y="366.04" text-anchor="end" font-family='"Liberation Sans", sans-serif' font-size="8.4" fill="#1a1a1a" stroke="#1a1a1a" stroke-width="0.08">−3</text><text x="34.7" y="349.93" text-anchor="end" font-family='"Liberation Sans", sans-serif' font-size="8.4" fill="#1a1a1a" stroke="#1a1a1a" stroke-width="0.08">−2</text><text x="34.7" y="333.81" text-anchor="end" font-family='"Liberation Sans", sans-serif' font-size="8.4" fill="#1a1a1a" stroke="#1a1a1a" stroke-width="0.08">−1</text><text x="34.7" y="317.70" text-anchor="end" font-family='"Liberation Sans", sans-serif' font-size="8.4" fill="#1a1a1a" stroke="#1a1a1a" stroke-width="0.08">0</text><text x="34.7" y="301.59" text-anchor="end" font-family='"Liberation Sans", sans-serif' font-size="8.4" fill="#1a1a1a" stroke="#1a1a1a" stroke-width="0.08">1</text><text x="34.7" y="285.48" text-anchor="end" font-family='"Liberation Sans", sans-serif' font-size="8.4" fill="#1a1a1a" stroke="#1a1a1a" stroke-width="0.08">2</text><text x="34.7" y="269.36" text-anchor="end" font-family='"Liberation Sans", sans-serif' font-size="8.4" fill="#1a1a1a" stroke="#1a1a1a" stroke-width="0.08">3</text><text x="34.7" y="253.25" text-anchor="end" font-family='"Liberation Sans", sans-serif' font-size="8.4" fill="#1a1a1a" stroke="#1a1a1a" stroke-width="0.08">4</text><text x="92.40" y="390.85" text-anchor="middle" font-family='"Liberation Sans", sans-serif' font-size="8.4" fill="#1a1a1a" stroke="#1a1a1a" stroke-width="0.08">01 Nov</text><text x="154.05" y="390.85" text-anchor="middle" font-family='"Liberation Sans", sans-serif' font-size="8.4" fill="#1a1a1a" stroke="#1a1a1a" stroke-width="0.08">15 Nov</text><text x="224.50" y="390.85" text-anchor="middle" font-family='"Liberation Sans", sans-serif' font-size="8.4" fill="#1a1a1a" stroke="#1a1a1a" stroke-width="0.08">01 Dec</text><text x="286.15" y="390.85" text-anchor="middle" font-family='"Liberation Sans", sans-serif' font-size="8.4" fill="#1a1a1a" stroke="#1a1a1a" stroke-width="0.08">15 Dec</text><text x="361.00" y="390.85" text-anchor="middle" font-family='"Liberation Sans", sans-serif' font-size="8.4" fill="#1a1a1a" stroke="#1a1a1a" stroke-width="0.08">01 Jan</text><text x="422.65" y="390.85" text-anchor="middle" font-family='"Liberation Sans", sans-serif' font-size="8.4" fill="#1a1a1a" stroke="#1a1a1a" stroke-width="0.08">15 Jan</text><text x="497.51" y="390.85" text-anchor="middle" font-family='"Liberation Sans", sans-serif' font-size="8.4" fill="#1a1a1a" stroke="#1a1a1a" stroke-width="0.08">01 Feb</text><text x="559.15" y="390.85" text-anchor="middle" font-family='"Liberation Sans", sans-serif' font-size="8.4" fill="#1a1a1a" stroke="#1a1a1a" stroke-width="0.08">15 Feb</text><text x="620.80" y="390.85" text-anchor="middle" font-family='"Liberation Sans", sans-serif' font-size="8.4" fill="#1a1a1a" stroke="#1a1a1a" stroke-width="0.08">01 Mar</text><text x="40.2" y="245.95" font-family='"Liberation Sans", sans-serif' font-size="14.8" fill="#000" stroke="#000" stroke-width="0.05" textLength="172.8" lengthAdjust="spacingAndGlyphs">500mb Z (7 day Forecast)</text><text x="431.00" y="245.75" font-family='"Liberation Sans", sans-serif' font-size="14.8" fill="#000" stroke="#000" stroke-width="0.05" textLength="193.5" lengthAdjust="spacingAndGlyphs">mean=0.1941; cor(w/obs)=0.9117</text><text x="0" y="0" transform="translate(18.3,316.80) rotate(-90)" text-anchor="middle" font-family='"Liberation Sans", sans-serif' font-size="13.6" fill="#000" textLength="31.8" lengthAdjust="spacingAndGlyphs">Index</text></g>
<g><path d="M40.0,538.24H625.1M40.0,522.12H625.1M40.0,506.01H625.1M40.0,489.90H625.1M40.0,473.79H625.1M40.0,457.68H625.1M40.0,441.56H625.1M92.40,425.4V554.4M154.05,425.4V554.4M224.50,425.4V554.4M286.15,425.4V554.4M361.00,425.4V554.4M422.65,425.4V554.4M497.51,425.4V554.4M559.15,425.4V554.4M620.80,425.4V554.4" stroke="#a8a8a8" stroke-width="0.75" stroke-dasharray="2,1.24" fill="none"/><path d="M39.50,486.73 C40.48,486.73 43.20,486.73 45.35,486.73 C47.49,486.73 49.63,486.92 52.36,486.73 C55.08,486.53 58.59,486.34 61.70,485.56 C64.82,484.78 67.54,483.22 71.05,482.06 C74.55,480.89 79.22,478.86 82.73,478.55 C86.23,478.24 88.96,480.07 92.07,480.19 C95.19,480.30 98.31,479.72 101.42,479.25 C104.54,478.79 107.65,478.28 110.77,477.38 C113.88,476.49 117.00,475.44 120.11,473.88 C123.23,472.32 126.34,468.93 129.46,468.04 C132.57,467.14 135.69,468.31 138.80,468.50 C141.92,468.70 145.03,469.09 148.15,469.21 C151.26,469.32 154.38,469.09 157.50,469.21 C160.61,469.32 163.73,469.32 166.84,469.91 C169.96,470.49 172.83,471.07 176.19,472.71 C179.55,474.35 184.04,477.38 187.01,479.72 C189.98,482.06 191.68,484.31 194.02,486.73 C196.36,489.14 198.69,493.43 201.03,494.21 C203.36,494.98 205.31,493.23 208.04,491.40 C210.76,489.57 214.66,485.44 217.38,483.22 C220.11,481.00 222.06,478.36 224.39,478.08 C226.73,477.81 229.07,480.15 231.40,481.59 C233.74,483.03 236.07,483.93 238.41,486.73 C240.75,489.53 243.08,495.49 245.42,498.41 C247.76,501.33 250.09,503.47 252.43,504.25 C254.77,505.03 256.71,503.20 259.44,503.08 C262.17,502.97 266.06,504.33 268.79,503.55 C271.51,502.77 273.46,500.44 275.79,498.41 C278.13,496.39 280.47,493.43 282.80,491.40 C285.14,489.38 287.48,487.04 289.81,486.26 C292.15,485.48 294.49,486.85 296.82,486.73 C299.16,486.61 301.11,485.87 303.83,485.56 C306.56,485.25 310.06,485.25 313.18,484.86 C316.29,484.47 319.83,483.77 322.52,483.22 C325.22,482.68 326.65,481.98 329.35,481.59 C332.04,481.20 335.58,480.81 338.69,480.89 C341.81,480.97 344.92,482.45 348.04,482.06 C351.15,481.67 355.24,479.64 357.38,478.55 C359.52,477.46 358.94,476.10 360.89,475.51 C362.83,474.93 366.14,475.32 369.07,475.05 C371.99,474.77 375.30,474.66 378.41,473.88 C381.53,473.10 385.23,470.88 387.76,470.37 C390.29,469.87 391.26,469.67 393.60,470.84 C395.93,472.01 398.86,476.88 401.78,477.38 C404.70,477.89 408.01,474.66 411.12,473.88 C414.24,473.10 417.74,473.18 420.47,472.71 C423.19,472.24 424.75,470.69 427.48,471.07 C430.20,471.46 434.10,474.00 436.82,475.05 C439.55,476.10 441.11,476.92 443.83,477.38 C446.56,477.85 450.45,477.85 453.18,477.85 C455.90,477.85 458.17,477.07 460.19,477.38 C462.21,477.70 463.34,478.80 465.30,479.72 C467.25,480.64 469.27,482.24 471.92,482.90 C474.57,483.56 478.32,483.79 481.19,483.70 C484.06,483.61 486.48,483.48 489.13,482.37 C491.78,481.27 494.43,478.62 497.08,477.08 C499.72,475.53 501.93,475.09 505.02,473.10 C508.11,471.12 512.52,466.26 515.61,465.16 C518.70,464.06 520.91,465.82 523.56,466.48 C526.21,467.15 528.86,467.81 531.50,469.13 C534.15,470.46 536.80,473.10 539.45,474.43 C542.10,475.75 544.30,477.30 547.39,477.08 C550.48,476.86 554.46,474.21 557.99,473.10 C561.52,472.00 565.93,471.12 568.58,470.46 C571.23,469.79 571.23,469.00 573.88,469.13 C576.53,469.26 581.38,470.59 584.47,471.25 C587.56,471.91 589.77,472.57 592.42,473.10 C595.06,473.63 597.93,473.77 600.36,474.43 C602.79,475.09 605.88,476.63 606.98,477.08 L606.98,495.61 C606.32,494.95 604.55,492.97 603.01,491.64 C601.46,490.32 599.92,488.68 597.71,487.67 C595.50,486.65 592.86,485.99 589.77,485.55 C586.68,485.11 582.70,485.11 579.17,485.02 C575.64,484.93 572.11,484.49 568.58,485.02 C565.05,485.55 561.08,487.10 557.99,488.20 C554.90,489.30 553.13,491.95 550.04,491.64 C546.95,491.33 542.54,487.89 539.45,486.35 C536.36,484.80 534.15,483.48 531.50,482.37 C528.86,481.27 526.21,480.52 523.56,479.72 C520.91,478.93 518.70,476.94 515.61,477.61 C512.52,478.27 508.11,481.58 505.02,483.70 C501.93,485.82 499.72,487.67 497.08,490.32 C494.43,492.97 491.56,497.38 489.13,499.59 C486.70,501.79 484.72,503.56 482.51,503.56 C480.30,503.56 478.32,501.13 475.89,499.59 C473.46,498.04 470.56,495.46 467.94,494.29 C465.33,493.12 462.65,493.05 460.19,492.57 C457.73,492.09 455.90,491.79 453.18,491.40 C450.45,491.01 446.56,490.82 443.83,490.23 C441.11,489.65 439.55,489.18 436.82,487.90 C434.10,486.61 430.20,483.30 427.48,482.52 C424.75,481.74 423.19,482.91 420.47,483.22 C417.74,483.54 414.24,483.81 411.12,484.39 C408.01,484.98 404.70,486.92 401.78,486.73 C398.86,486.53 395.93,483.69 393.60,483.22 C391.26,482.76 390.29,483.34 387.76,483.93 C385.23,484.51 381.53,486.07 378.41,486.73 C375.30,487.39 371.99,487.70 369.07,487.90 C366.14,488.09 362.83,486.92 360.89,487.90 C358.94,488.87 359.52,492.18 357.38,493.74 C355.24,495.30 351.15,496.85 348.04,497.24 C344.92,497.63 341.81,495.96 338.69,496.07 C335.58,496.19 331.65,497.94 329.35,497.94 C327.04,497.94 327.17,496.00 324.86,496.07 C322.55,496.15 318.63,497.55 315.51,498.41 C312.40,499.27 308.89,500.90 306.17,501.21 C303.44,501.53 301.50,500.55 299.16,500.28 C296.82,500.01 294.49,499.42 292.15,499.58 C289.81,499.74 287.48,500.16 285.14,501.21 C282.80,502.27 280.47,503.71 278.13,505.89 C275.79,508.07 273.46,511.85 271.12,514.30 C268.79,516.75 266.84,519.28 264.11,520.61 C261.39,521.93 257.49,522.24 254.77,522.24 C252.04,522.24 250.09,521.85 247.76,520.61 C245.42,519.36 243.08,516.83 240.75,514.77 C238.41,512.70 236.46,509.39 233.74,508.22 C231.01,507.06 227.12,507.83 224.39,507.76 C221.67,507.68 220.11,507.37 217.38,507.76 C214.66,508.15 210.76,509.12 208.04,510.09 C205.31,511.07 203.36,513.91 201.03,513.60 C198.69,513.29 196.36,510.17 194.02,508.22 C191.68,506.28 189.20,504.72 187.01,501.92 C184.82,499.11 183.44,493.93 180.86,491.40 C178.28,488.87 174.63,487.70 171.51,486.73 C168.40,485.76 165.28,485.95 162.17,485.56 C159.05,485.17 155.94,484.67 152.82,484.39 C149.71,484.12 146.59,484.12 143.48,483.93 C140.36,483.73 136.86,482.17 134.13,483.22 C131.40,484.28 129.46,488.29 127.12,490.23 C124.79,492.18 122.84,494.01 120.11,494.91 C117.39,495.80 113.88,495.02 110.77,495.61 C107.65,496.19 104.93,498.33 101.42,498.41 C97.92,498.49 93.63,496.46 89.74,496.07 C85.84,495.69 81.56,495.49 78.06,496.07 C74.55,496.66 71.83,497.24 68.71,499.58 C65.60,501.92 62.09,507.17 59.36,510.09 C56.64,513.01 54.69,515.62 52.36,517.10 C50.02,518.58 47.49,518.78 45.35,518.97 C43.20,519.17 40.48,518.39 39.50,518.27 Z" fill="#ffd000" fill-opacity="0.8" stroke="none"/><path d="M39.50,470.37 C40.46,470.05 45.91,467.57 47.68,467.57 C49.45,467.57 53.06,469.56 54.69,470.37 C56.33,471.19 59.79,474.17 61.70,474.58 C63.61,474.99 69.14,474.51 71.05,473.88 C72.95,473.25 76.56,469.94 78.06,469.21 C79.56,468.47 82.67,467.30 83.90,467.57 C85.12,467.84 87.34,470.18 88.57,471.54 C89.80,472.90 93.18,478.57 94.41,479.25 C95.64,479.93 97.86,478.15 99.08,477.38 C100.31,476.62 103.56,473.86 104.93,472.71 C106.29,471.57 109.27,467.98 110.77,467.57 C112.27,467.16 116.28,469.01 117.78,469.21 C119.27,469.40 121.98,470.02 123.62,469.21 C125.25,468.39 130.02,463.15 131.79,462.20 C133.57,461.24 136.90,460.97 138.80,461.03 C140.71,461.08 145.97,462.53 148.15,462.66 C150.33,462.80 155.59,462.33 157.50,462.20 C159.40,462.06 163.14,461.41 164.50,461.50 C165.87,461.58 167.81,462.82 169.18,462.90 C170.54,462.98 174.82,462.01 176.19,462.20 C177.55,462.39 179.60,463.71 180.86,464.53 C182.12,465.35 185.61,467.98 187.01,469.21 C188.41,470.43 191.49,473.55 192.85,475.05 C194.21,476.55 197.19,481.29 198.69,482.06 C200.19,482.82 204.34,482.54 205.70,481.59 C207.06,480.63 209.15,475.32 210.37,473.88 C211.60,472.43 214.99,470.84 216.21,469.21 C217.44,467.57 219.93,461.03 220.89,459.86 C221.84,458.69 223.44,458.75 224.39,459.16 C225.35,459.57 227.98,462.11 229.07,463.36 C230.16,464.62 232.65,469.09 233.74,469.91 C234.83,470.72 237.32,469.77 238.41,470.37 C239.50,470.97 241.99,473.14 243.08,475.05 C244.17,476.95 246.67,484.28 247.76,486.73 C248.85,489.18 251.07,494.98 252.43,496.07 C253.79,497.17 257.80,496.29 259.44,496.07 C261.07,495.86 264.81,494.89 266.45,494.21 C268.08,493.52 271.82,491.24 273.46,490.23 C275.09,489.23 278.83,486.57 280.47,485.56 C282.10,484.55 286.11,482.19 287.48,481.59 C288.84,480.99 290.92,480.42 292.15,480.42 C293.38,480.42 296.63,481.89 297.99,481.59 C299.35,481.29 302.33,478.20 303.83,477.85 C305.33,477.50 309.48,478.12 310.84,478.55 C312.20,478.99 314.15,481.67 315.51,481.59 C316.88,481.51 321.18,478.48 322.52,477.85 C323.86,477.22 325.67,476.81 327.01,476.21 C328.35,475.62 332.38,473.66 334.02,472.71 C335.65,471.76 339.39,468.17 341.03,468.04 C342.66,467.90 346.40,471.27 348.04,471.54 C349.67,471.81 353.55,470.65 355.05,470.37 C356.55,470.10 359.25,469.48 360.89,469.21 C362.52,468.93 367.02,468.45 369.07,468.04 C371.11,467.63 375.96,466.11 378.41,465.70 C380.86,465.29 387.91,464.31 390.09,464.53 C392.27,464.75 395.47,466.75 397.10,467.57 C398.74,468.39 402.20,471.35 404.11,471.54 C406.02,471.73 411.28,469.94 413.46,469.21 C415.64,468.47 420.76,465.83 422.80,465.23 C424.85,464.63 429.35,463.60 430.98,464.07 C432.62,464.53 435.32,467.98 436.82,469.21 C438.32,470.43 441.92,473.84 443.83,474.58 C445.74,475.32 451.27,475.32 453.18,475.51 C455.09,475.70 458.62,476.50 460.19,476.21 C461.76,475.93 465.10,473.31 466.62,473.10 C468.14,472.90 471.70,473.96 473.24,474.43 C474.79,474.89 478.32,476.92 479.86,477.08 C481.41,477.23 484.78,476.52 486.48,475.75 C488.18,474.98 492.57,471.85 494.43,470.46 C496.28,469.07 500.52,465.07 502.37,463.83 C504.23,462.60 508.46,460.73 510.32,459.86 C512.17,459.00 516.41,456.51 518.26,456.42 C520.12,456.33 524.35,458.36 526.21,459.07 C528.06,459.78 532.30,461.65 534.15,462.51 C536.01,463.38 540.24,465.71 542.10,466.48 C543.95,467.26 548.19,468.76 550.04,469.13 C551.90,469.50 556.44,469.82 557.99,469.66 C559.53,469.51 562.05,468.55 563.28,467.81 C564.52,467.07 567.34,464.02 568.58,463.31 C569.82,462.59 572.33,461.81 573.88,461.72 C575.42,461.62 579.97,461.95 581.82,462.51 C583.68,463.07 588.22,465.65 589.77,466.48 C591.31,467.32 593.83,469.35 595.06,469.66 C596.30,469.97 598.97,468.88 600.36,469.13 C601.75,469.38 606.21,471.47 606.98,471.78" stroke="#ff4040" stroke-opacity="0.85" stroke-width="1.15" fill="none"/><path d="M39.50,534.63 C40.19,534.54 43.85,534.12 45.35,533.93 C46.85,533.73 50.72,534.41 52.36,532.99 C53.99,531.57 57.46,524.31 59.36,521.78 C61.27,519.24 66.53,512.62 68.71,511.26 C70.89,509.90 76.15,510.91 78.06,510.09 C79.96,509.28 83.43,505.21 85.07,504.25 C86.70,503.30 90.17,501.64 92.07,501.92 C93.98,502.19 99.51,506.18 101.42,506.59 C103.33,507.00 106.52,505.61 108.43,505.42 C110.34,505.23 116.00,505.23 117.78,504.95 C119.55,504.68 122.25,504.12 123.62,503.08 C124.98,502.05 127.96,497.30 129.46,496.07 C130.96,494.85 135.10,492.30 136.47,492.57 C137.83,492.84 140.05,497.40 141.14,498.41 C142.23,499.42 144.45,501.54 145.81,501.21 C147.18,500.89 151.46,496.34 152.82,495.61 C154.19,494.87 156.13,494.44 157.50,494.91 C158.86,495.37 162.87,498.68 164.50,499.58 C166.14,500.48 169.74,501.66 171.51,502.62 C173.29,503.57 177.61,506.75 179.69,507.76 C181.77,508.77 187.40,510.23 189.35,511.26 C191.29,512.30 194.72,515.55 196.36,516.64 C197.99,517.73 201.46,520.42 203.36,520.61 C205.27,520.80 210.53,518.90 212.71,518.27 C214.89,517.64 220.15,515.23 222.06,515.23 C223.96,515.23 227.16,517.24 229.07,518.27 C230.97,519.31 236.50,522.89 238.41,524.11 C240.32,525.34 243.92,527.91 245.42,528.79 C246.92,529.66 249.90,531.73 251.26,531.59 C252.62,531.45 255.33,528.35 257.10,527.62 C258.87,526.88 264.54,526.37 266.45,525.28 C268.36,524.19 271.82,519.77 273.46,518.27 C275.09,516.77 278.83,513.38 280.47,512.43 C282.10,511.48 285.57,510.50 287.48,510.09 C289.38,509.68 294.51,508.87 296.82,508.93 C299.14,508.98 305.43,510.70 307.34,510.56 C309.24,510.42 311.54,508.77 313.18,507.76 C314.81,506.75 319.74,502.32 321.36,501.92 C322.97,501.51 325.53,503.63 327.01,504.25 C328.49,504.88 332.38,507.29 334.02,507.29 C335.65,507.29 339.39,504.33 341.03,504.25 C342.66,504.17 346.40,506.73 348.04,506.59 C349.67,506.45 353.55,504.53 355.05,503.08 C356.55,501.64 359.25,495.30 360.89,494.21 C362.52,493.12 367.02,493.74 369.07,493.74 C371.11,493.74 376.78,493.99 378.41,494.21 C380.05,494.42 381.58,496.07 383.08,495.61 C384.58,495.14 389.49,490.59 391.26,490.23 C393.03,489.88 396.77,491.75 398.27,492.57 C399.77,493.39 402.34,497.38 404.11,497.24 C405.88,497.11 411.28,492.96 413.46,491.40 C415.64,489.85 420.90,484.20 422.80,483.93 C424.71,483.65 428.18,487.51 429.81,489.07 C431.45,490.62 435.19,496.02 436.82,497.24 C438.46,498.47 441.92,499.44 443.83,499.58 C445.74,499.72 451.27,498.27 453.18,498.41 C455.09,498.55 458.62,499.99 460.19,500.75 C461.76,501.50 465.10,504.25 466.62,504.88 C468.14,505.52 471.70,505.59 473.24,506.21 C474.79,506.83 478.47,509.41 479.86,510.18 C481.25,510.95 484.08,512.83 485.16,512.83 C486.24,512.83 487.74,512.50 489.13,510.18 C490.52,507.86 495.38,495.04 497.08,492.97 C498.78,490.90 502.15,492.59 503.70,492.44 C505.24,492.28 508.93,492.35 510.32,491.64 C511.71,490.93 514.53,486.65 515.61,486.35 C516.70,486.04 518.51,488.84 519.59,488.99 C520.67,489.15 523.80,487.36 524.88,487.67 C525.96,487.98 527.77,491.18 528.86,491.64 C529.94,492.11 532.92,491.18 534.15,491.64 C535.39,492.11 537.90,494.38 539.45,495.61 C540.99,496.85 545.85,501.56 547.39,502.24 C548.94,502.91 551.61,501.90 552.69,501.44 C553.77,500.98 555.43,498.88 556.66,498.26 C557.90,497.64 561.58,496.51 563.28,496.14 C564.98,495.77 569.68,495.30 571.23,495.08 C572.77,494.87 575.29,494.23 576.53,494.29 C577.76,494.35 580.59,495.77 581.82,495.61 C583.06,495.46 585.57,493.28 587.12,492.97 C588.66,492.66 593.52,492.35 595.06,492.97 C596.61,493.58 598.97,497.09 600.36,498.26 C601.75,499.44 606.21,502.47 606.98,503.03" stroke="#ff4040" stroke-opacity="0.85" stroke-width="1.15" fill="none"/><path d="M40.0,489.90H625.1" stroke="#303030" stroke-opacity="0.7" stroke-width="1" fill="none"/><path d="M39.50,502.62 C40.19,502.54 43.85,501.92 45.35,501.92 C46.85,501.92 50.72,503.16 52.36,502.62 C53.99,502.07 57.46,498.42 59.36,497.24 C61.27,496.07 66.53,493.47 68.71,492.57 C70.89,491.67 76.15,490.08 78.06,489.53 C79.96,488.99 83.43,487.90 85.07,487.90 C86.70,487.90 90.44,489.18 92.07,489.53 C93.71,489.89 97.45,491.13 99.08,490.93 C100.72,490.74 104.19,488.39 106.09,487.90 C108.00,487.41 113.53,487.27 115.44,486.73 C117.35,486.18 120.95,484.31 122.45,483.22 C123.95,482.13 126.65,478.28 128.29,477.38 C129.93,476.48 134.42,475.57 136.47,475.51 C138.51,475.46 143.36,476.75 145.81,476.92 C148.27,477.08 155.31,476.73 157.50,476.92 C159.68,477.11 162.60,477.95 164.50,478.55 C166.41,479.15 171.94,481.32 173.85,482.06 C175.76,482.79 179.46,484.18 180.86,484.86 C182.26,485.54 184.58,486.73 185.84,487.90 C187.10,489.07 190.18,493.19 191.68,494.91 C193.18,496.62 197.06,501.66 198.69,502.62 C200.33,503.57 204.07,503.57 205.70,503.08 C207.34,502.59 211.07,499.37 212.71,498.41 C214.35,497.46 218.36,495.72 219.72,494.91 C221.08,494.09 223.03,491.40 224.39,491.40 C225.76,491.40 229.77,493.95 231.40,494.91 C233.04,495.86 236.78,498.35 238.41,499.58 C240.05,500.81 244.06,503.79 245.42,505.42 C246.78,507.06 248.73,512.51 250.09,513.60 C251.46,514.69 255.19,514.90 257.10,514.77 C259.01,514.63 264.54,513.52 266.45,512.43 C268.36,511.34 271.82,507.06 273.46,505.42 C275.09,503.79 278.83,499.56 280.47,498.41 C282.10,497.27 285.84,496.10 287.48,495.61 C289.11,495.12 292.85,494.42 294.49,494.21 C296.12,493.99 299.86,493.85 301.50,493.74 C303.13,493.63 306.87,493.41 308.50,493.27 C310.14,493.13 313.88,492.92 315.51,492.57 C317.15,492.22 321.18,490.42 322.52,490.23 C323.86,490.04 325.67,490.85 327.01,490.93 C328.35,491.02 332.38,491.29 334.02,490.93 C335.65,490.58 339.39,488.06 341.03,487.90 C342.66,487.73 346.67,489.40 348.04,489.53 C349.40,489.67 351.21,489.99 352.71,489.07 C354.21,488.14 358.43,482.62 360.89,481.59 C363.34,480.55 371.15,480.68 373.74,480.19 C376.33,479.70 380.90,477.98 383.08,477.38 C385.26,476.78 390.79,474.83 392.43,475.05 C394.07,475.26 395.74,478.22 397.10,479.25 C398.47,480.29 402.20,483.87 404.11,483.93 C406.02,483.98 411.28,480.54 413.46,479.72 C415.64,478.90 420.90,477.19 422.80,476.92 C424.71,476.64 428.18,476.78 429.81,477.38 C431.45,477.98 435.19,481.18 436.82,482.06 C438.46,482.93 441.92,484.45 443.83,484.86 C445.74,485.27 451.27,485.40 453.18,485.56 C455.09,485.72 458.46,485.86 460.19,486.26 C461.91,486.66 466.27,488.37 467.94,488.99 C469.62,489.62 473.18,491.02 474.57,491.64 C475.96,492.26 478.47,494.14 479.86,494.29 C481.25,494.44 484.78,493.89 486.48,492.97 C488.18,492.04 492.42,487.89 494.43,486.35 C496.44,484.80 501.53,481.27 503.70,479.72 C505.86,478.18 510.65,474.03 512.97,473.10 C515.28,472.18 521.40,471.63 523.56,471.78 C525.72,471.93 529.65,473.66 531.50,474.43 C533.36,475.20 537.29,477.23 539.45,478.40 C541.61,479.57 547.88,484.03 550.04,484.49 C552.21,484.95 555.82,483.18 557.99,482.37 C560.15,481.57 566.11,478.16 568.58,477.61 C571.05,477.05 576.70,477.42 579.17,477.61 C581.65,477.79 587.60,478.64 589.77,479.19 C591.93,479.75 595.70,481.45 597.71,482.37 C599.72,483.30 605.90,486.58 606.98,487.14" stroke="#0000ff" stroke-width="1.4" fill="none"/><path d="M39.74,503.58 C40.76,501.93 47.01,491.21 48.46,489.38 C49.91,487.55 50.75,487.01 52.20,487.88 C53.65,488.75 59.26,495.43 60.92,496.85 C62.58,498.28 65.39,499.83 66.40,500.09 C67.42,500.36 68.54,500.14 69.64,499.10 C70.75,498.05 74.22,493.21 75.88,491.12 C77.53,489.03 82.40,482.29 83.85,481.15 C85.30,480.02 86.65,481.02 88.34,481.40 C90.02,481.78 96.71,484.04 98.31,484.39 C99.90,484.74 100.59,484.80 102.04,484.39 C103.50,483.99 109.23,481.37 110.77,480.90 C112.31,480.44 113.94,480.32 115.25,480.40 C116.56,480.49 120.18,481.91 121.98,481.65 C123.78,481.39 129.02,478.63 130.70,478.16 C132.39,477.70 135.27,477.31 136.44,477.66 C137.60,478.01 139.16,479.79 140.67,481.15 C142.18,482.52 147.94,488.36 149.40,489.38 C150.85,490.39 151.68,490.25 153.13,489.88 C154.59,489.50 160.11,486.69 161.86,486.14 C163.60,485.58 166.78,485.20 168.09,485.14 C169.40,485.08 171.76,485.23 173.07,485.64 C174.38,486.05 177.56,487.55 179.30,488.63 C181.05,489.71 186.20,493.90 188.02,494.86 C189.85,495.82 193.59,496.85 194.98,496.85 C196.38,496.85 198.52,495.82 199.97,494.86 C201.42,493.90 205.70,489.97 207.45,488.63 C209.19,487.29 213.47,484.04 214.92,483.40 C216.38,482.76 218.74,482.74 219.91,483.15 C221.07,483.55 223.58,485.23 224.89,486.88 C226.20,488.54 229.67,494.53 231.12,497.35 C232.58,500.17 236.13,508.94 237.35,511.06 C238.57,513.18 240.66,515.34 241.59,515.55 C242.52,515.75 244.28,513.91 245.33,512.80 C246.37,511.70 249.40,507.24 250.56,506.07 C251.72,504.91 254.22,502.92 255.30,502.83 C256.37,502.75 258.74,504.60 259.78,505.33 C260.83,506.05 263.25,508.63 264.27,509.07 C265.29,509.50 267.43,509.71 268.50,509.07 C269.58,508.43 272.04,505.53 273.49,503.58 C274.94,501.63 279.51,494.26 280.97,492.37 C282.42,490.48 284.79,487.96 285.95,487.38 C287.11,486.80 289.34,486.74 290.93,487.38 C292.53,488.02 298.06,492.23 299.66,492.87 C301.26,493.51 303.48,493.16 304.64,492.87 C305.80,492.58 307.88,490.87 309.63,490.37 C311.37,489.88 317.71,489.04 319.60,488.63 C321.48,488.22 324.52,487.52 325.83,486.88 C327.13,486.25 329.36,484.63 330.81,483.15 C332.26,481.66 336.83,475.92 338.29,474.17 C339.74,472.43 341.76,469.07 343.27,468.19 C344.78,467.32 349.27,466.70 351.21,466.70 C353.16,466.70 357.76,467.61 359.94,468.19 C362.12,468.77 367.87,470.90 369.91,471.68 C371.94,472.47 375.78,474.31 377.38,474.92 C378.98,475.53 382.31,476.71 383.61,476.92 C384.92,477.12 386.85,476.99 388.60,476.67 C390.34,476.35 396.82,474.61 398.57,474.17 C400.31,473.74 402.24,473.48 403.55,472.93 C404.86,472.38 408.53,469.90 409.78,469.44 C411.03,468.97 412.96,468.59 414.27,468.94 C415.58,469.29 419.34,471.01 421.00,472.43 C422.65,473.85 426.73,479.35 428.47,481.15 C430.22,482.96 434.58,487.10 435.95,487.88 C437.32,488.67 438.73,488.58 440.19,487.88 C441.64,487.18 446.87,482.69 448.41,481.90 C449.95,481.12 452.09,480.95 453.40,481.15 C454.70,481.36 458.09,483.01 459.63,483.64 C461.17,484.28 465.15,486.26 466.60,486.64 C468.06,487.01 471.01,487.00 472.09,486.88 C473.16,486.77 474.81,486.22 475.83,485.64 C476.84,485.06 479.36,482.63 480.81,481.90 C482.26,481.17 486.83,479.70 488.29,479.41 C489.74,479.12 492.18,479.55 493.27,479.41 C494.36,479.26 496.11,478.64 497.63,478.16 C499.16,477.68 504.45,476.27 506.35,475.32 C508.26,474.38 512.08,470.98 513.99,470.09 C515.89,469.20 520.93,467.64 522.71,467.69 C524.49,467.74 527.60,469.43 529.25,470.53 C530.90,471.62 534.97,475.87 536.88,477.07 C538.79,478.27 543.57,480.06 545.60,480.78 C547.64,481.49 552.29,483.35 554.33,483.17 C556.36,483.00 562.03,479.71 563.05,479.25" stroke="#000" stroke-width="1.8" fill="none" stroke-linejoin="round"/><path d="M40.00,424.90V554.90M625.10,424.90V554.90" stroke="#262626" stroke-width="1.15" fill="none"/><path d="M39.45,425.45H625.65M39.45,554.35H625.65" stroke="#484848" stroke-width="1.05" fill="none"/><path d="M37.4,554.35H40.0M37.4,538.24H40.0M37.4,522.12H40.0M37.4,506.01H40.0M37.4,489.90H40.0M37.4,473.79H40.0M37.4,457.68H40.0M37.4,441.56H40.0M37.4,425.45H40.0M92.40,554.4V557.0M154.05,554.4V557.0M224.50,554.4V557.0M286.15,554.4V557.0M361.00,554.4V557.0M422.65,554.4V557.0M497.51,554.4V557.0M559.15,554.4V557.0M620.80,554.4V557.0" stroke="#3a3a3a" stroke-width="0.9" fill="none"/><text x="34.7" y="557.15" text-anchor="end" font-family='"Liberation Sans", sans-serif' font-size="8.4" fill="#1a1a1a" stroke="#1a1a1a" stroke-width="0.08">−4</text><text x="34.7" y="541.04" text-anchor="end" font-family='"Liberation Sans", sans-serif' font-size="8.4" fill="#1a1a1a" stroke="#1a1a1a" stroke-width="0.08">−3</text><text x="34.7" y="524.92" text-anchor="end" font-family='"Liberation Sans", sans-serif' font-size="8.4" fill="#1a1a1a" stroke="#1a1a1a" stroke-width="0.08">−2</text><text x="34.7" y="508.81" text-anchor="end" font-family='"Liberation Sans", sans-serif' font-size="8.4" fill="#1a1a1a" stroke="#1a1a1a" stroke-width="0.08">−1</text><text x="34.7" y="492.70" text-anchor="end" font-family='"Liberation Sans", sans-serif' font-size="8.4" fill="#1a1a1a" stroke="#1a1a1a" stroke-width="0.08">0</text><text x="34.7" y="476.59" text-anchor="end" font-family='"Liberation Sans", sans-serif' font-size="8.4" fill="#1a1a1a" stroke="#1a1a1a" stroke-width="0.08">1</text><text x="34.7" y="460.48" text-anchor="end" font-family='"Liberation Sans", sans-serif' font-size="8.4" fill="#1a1a1a" stroke="#1a1a1a" stroke-width="0.08">2</text><text x="34.7" y="444.36" text-anchor="end" font-family='"Liberation Sans", sans-serif' font-size="8.4" fill="#1a1a1a" stroke="#1a1a1a" stroke-width="0.08">3</text><text x="34.7" y="428.25" text-anchor="end" font-family='"Liberation Sans", sans-serif' font-size="8.4" fill="#1a1a1a" stroke="#1a1a1a" stroke-width="0.08">4</text><text x="92.40" y="565.85" text-anchor="middle" font-family='"Liberation Sans", sans-serif' font-size="8.4" fill="#1a1a1a" stroke="#1a1a1a" stroke-width="0.08">01 Nov</text><text x="154.05" y="565.85" text-anchor="middle" font-family='"Liberation Sans", sans-serif' font-size="8.4" fill="#1a1a1a" stroke="#1a1a1a" stroke-width="0.08">15 Nov</text><text x="224.50" y="565.85" text-anchor="middle" font-family='"Liberation Sans", sans-serif' font-size="8.4" fill="#1a1a1a" stroke="#1a1a1a" stroke-width="0.08">01 Dec</text><text x="286.15" y="565.85" text-anchor="middle" font-family='"Liberation Sans", sans-serif' font-size="8.4" fill="#1a1a1a" stroke="#1a1a1a" stroke-width="0.08">15 Dec</text><text x="361.00" y="565.85" text-anchor="middle" font-family='"Liberation Sans", sans-serif' font-size="8.4" fill="#1a1a1a" stroke="#1a1a1a" stroke-width="0.08">01 Jan</text><text x="422.65" y="565.85" text-anchor="middle" font-family='"Liberation Sans", sans-serif' font-size="8.4" fill="#1a1a1a" stroke="#1a1a1a" stroke-width="0.08">15 Jan</text><text x="497.51" y="565.85" text-anchor="middle" font-family='"Liberation Sans", sans-serif' font-size="8.4" fill="#1a1a1a" stroke="#1a1a1a" stroke-width="0.08">01 Feb</text><text x="559.15" y="565.85" text-anchor="middle" font-family='"Liberation Sans", sans-serif' font-size="8.4" fill="#1a1a1a" stroke="#1a1a1a" stroke-width="0.08">15 Feb</text><text x="620.80" y="565.85" text-anchor="middle" font-family='"Liberation Sans", sans-serif' font-size="8.4" fill="#1a1a1a" stroke="#1a1a1a" stroke-width="0.08">01 Mar</text><text x="40.2" y="420.95" font-family='"Liberation Sans", sans-serif' font-size="14.8" fill="#000" stroke="#000" stroke-width="0.05" textLength="181.0" lengthAdjust="spacingAndGlyphs">500mb Z (10 day Forecast)</text><text x="431.00" y="420.75" font-family='"Liberation Sans", sans-serif' font-size="14.8" fill="#000" stroke="#000" stroke-width="0.05" textLength="193.5" lengthAdjust="spacingAndGlyphs">mean=0.0792; cor(w/obs)=0.7709</text><text x="0" y="0" transform="translate(18.3,491.80) rotate(-90)" text-anchor="middle" font-family='"Liberation Sans", sans-serif' font-size="13.6" fill="#000" textLength="31.8" lengthAdjust="spacingAndGlyphs">Index</text></g>
<g><path d="M40.0,713.24H625.1M40.0,697.12H625.1M40.0,681.01H625.1M40.0,664.90H625.1M40.0,648.79H625.1M40.0,632.68H625.1M40.0,616.56H625.1M92.40,600.5V729.4M154.05,600.5V729.4M224.50,600.5V729.4M286.15,600.5V729.4M361.00,600.5V729.4M422.65,600.5V729.4M497.51,600.5V729.4M559.15,600.5V729.4M620.80,600.5V729.4" stroke="#a8a8a8" stroke-width="0.75" stroke-dasharray="2,1.24" fill="none"/><path d="M39.50,646.21 C40.28,646.41 42.43,645.83 44.18,647.38 C45.93,648.94 47.88,653.03 50.02,655.56 C52.16,658.09 54.30,661.79 57.03,662.57 C59.75,663.35 63.26,661.21 66.37,660.23 C69.49,659.26 72.60,657.90 75.72,656.73 C78.83,655.56 82.34,653.42 85.07,653.22 C87.79,653.03 89.74,654.59 92.07,655.56 C94.41,656.53 96.75,658.87 99.08,659.07 C101.42,659.26 103.37,656.92 106.09,656.73 C108.82,656.53 112.52,658.29 115.44,657.90 C118.36,657.51 120.89,655.95 123.62,654.39 C126.34,652.83 128.87,649.72 131.79,648.55 C134.71,647.38 138.02,647.89 141.14,647.38 C144.26,646.88 147.37,645.51 150.49,645.51 C153.60,645.51 156.72,646.68 159.83,647.38 C162.95,648.08 166.06,649.25 169.18,649.72 C172.29,650.19 175.55,650.19 178.52,650.19 C181.50,650.19 184.43,649.49 187.01,649.72 C189.59,649.95 191.68,651.00 194.02,651.59 C196.36,652.17 198.30,652.56 201.03,653.22 C203.75,653.89 207.26,655.76 210.37,655.56 C213.49,655.37 216.60,653.03 219.72,652.06 C222.83,651.08 225.95,649.72 229.07,649.72 C232.18,649.72 235.30,650.69 238.41,652.06 C241.53,653.42 245.03,656.42 247.76,657.90 C250.48,659.38 252.43,660.16 254.77,660.93 C257.10,661.71 259.44,661.52 261.78,662.57 C264.11,663.62 266.84,665.88 268.79,667.24 C270.73,668.61 271.51,670.94 273.46,670.75 C275.40,670.55 278.13,667.44 280.47,666.07 C282.80,664.71 285.14,663.35 287.48,662.57 C289.81,661.79 291.76,661.79 294.49,661.40 C297.21,661.01 300.72,660.82 303.83,660.23 C306.95,659.65 310.06,658.09 313.18,657.90 C316.29,657.70 319.83,658.68 322.52,659.07 C325.22,659.45 326.65,660.43 329.35,660.23 C332.04,660.04 335.58,658.68 338.69,657.90 C341.81,657.12 344.92,655.37 348.04,655.56 C351.15,655.76 354.66,658.09 357.38,659.07 C360.11,660.04 361.67,661.99 364.39,661.40 C367.12,660.82 370.62,656.73 373.74,655.56 C376.85,654.39 379.97,654.78 383.08,654.39 C386.20,654.00 389.31,653.69 392.43,653.22 C395.55,652.76 398.86,652.25 401.78,651.59 C404.70,650.93 407.23,648.98 409.95,649.25 C412.68,649.52 415.21,652.76 418.13,653.22 C421.05,653.69 424.36,652.45 427.48,652.06 C430.59,651.67 433.71,650.89 436.82,650.89 C439.94,650.89 443.05,651.47 446.17,652.06 C449.28,652.64 452.40,654.20 455.51,654.39 C458.63,654.59 462.35,653.65 464.86,653.22 C467.37,652.80 467.87,652.21 470.59,651.84 C473.31,651.48 477.66,650.74 481.19,651.05 C484.72,651.36 488.25,653.56 491.78,653.70 C495.31,653.83 498.84,653.39 502.37,651.84 C505.90,650.30 509.88,646.46 512.97,644.43 C516.06,642.40 517.82,640.32 520.91,639.66 C524.00,639.00 528.41,639.66 531.50,640.46 C534.59,641.25 536.36,643.55 539.45,644.43 C542.54,645.31 546.51,645.31 550.04,645.75 C553.57,646.19 557.10,647.39 560.64,647.08 C564.17,646.77 567.70,644.69 571.23,643.90 C574.76,643.10 578.29,642.00 581.82,642.31 C585.35,642.62 588.88,644.60 592.42,645.75 C595.95,646.90 599.48,648.31 603.01,649.19 C606.54,650.08 609.85,650.52 613.60,651.05 C617.35,651.58 623.53,652.15 625.52,652.37 L625.52,674.88 C623.53,673.78 617.35,669.59 613.60,668.26 C609.85,666.94 606.54,667.29 603.01,666.94 C599.48,666.59 595.95,666.89 592.42,666.14 C588.88,665.39 585.35,663.32 581.82,662.44 C578.29,661.55 574.76,660.32 571.23,660.85 C567.70,661.38 564.17,665.48 560.64,665.61 C557.10,665.75 553.57,662.97 550.04,661.64 C546.51,660.32 542.54,658.77 539.45,657.67 C536.36,656.57 534.59,655.24 531.50,655.02 C528.41,654.80 524.00,654.80 520.91,656.35 C517.82,657.89 516.06,661.42 512.97,664.29 C509.88,667.16 505.90,672.10 502.37,673.56 C498.84,675.02 495.31,672.94 491.78,673.03 C488.25,673.12 484.72,674.44 481.19,674.09 C477.66,673.74 473.31,671.47 470.59,670.91 C467.87,670.35 467.37,670.97 464.86,670.75 C462.35,670.53 458.63,670.16 455.51,669.58 C452.40,669.00 449.28,667.52 446.17,667.24 C443.05,666.97 439.94,667.55 436.82,667.94 C433.71,668.33 430.59,669.19 427.48,669.58 C424.36,669.97 421.05,670.55 418.13,670.28 C415.21,670.01 412.68,667.94 409.95,667.94 C407.23,667.94 404.70,669.81 401.78,670.28 C398.86,670.75 395.55,670.59 392.43,670.75 C389.31,670.90 386.20,670.90 383.08,671.21 C379.97,671.53 376.85,671.53 373.74,672.62 C370.62,673.71 367.12,676.71 364.39,677.76 C361.67,678.81 360.11,679.00 357.38,678.93 C354.66,678.85 351.15,677.41 348.04,677.29 C344.92,677.17 341.81,677.83 338.69,678.22 C335.58,678.61 332.04,679.70 329.35,679.63 C326.65,679.55 325.22,677.87 322.52,677.76 C319.83,677.64 316.29,678.34 313.18,678.93 C310.06,679.51 306.95,680.37 303.83,681.26 C300.72,682.16 297.60,683.52 294.49,684.30 C291.37,685.08 288.26,684.88 285.14,685.93 C282.02,686.99 278.52,689.44 275.79,690.61 C273.07,691.78 271.12,693.14 268.79,692.94 C266.45,692.75 264.11,689.44 261.78,689.44 C259.44,689.44 257.10,692.17 254.77,692.94 C252.43,693.72 250.09,695.48 247.76,694.11 C245.42,692.75 243.08,686.91 240.75,684.77 C238.41,682.62 236.46,681.26 233.74,681.26 C231.01,681.26 227.51,683.87 224.39,684.77 C221.28,685.66 217.77,687.02 215.05,686.64 C212.32,686.25 210.37,683.71 208.04,682.43 C205.70,681.14 203.36,679.90 201.03,678.93 C198.69,677.95 196.36,677.37 194.02,676.59 C191.68,675.81 189.59,674.84 187.01,674.25 C184.43,673.67 181.11,672.81 178.52,673.08 C175.94,673.36 173.85,675.50 171.51,675.89 C169.18,676.28 166.84,676.28 164.50,675.42 C162.17,674.56 159.83,672.62 157.50,670.75 C155.16,668.88 153.21,664.79 150.49,664.21 C147.76,663.62 144.26,665.96 141.14,667.24 C138.02,668.53 134.91,670.16 131.79,671.92 C128.68,673.67 125.56,675.81 122.45,677.76 C119.33,679.70 116.22,683.60 113.10,683.60 C109.99,683.60 106.87,679.04 103.76,677.76 C100.64,676.47 97.53,675.89 94.41,675.89 C91.30,675.89 88.18,676.08 85.07,677.76 C81.95,679.43 78.45,683.29 75.72,685.93 C72.99,688.58 71.44,692.48 68.71,693.64 C65.98,694.81 62.09,693.84 59.36,692.94 C56.64,692.05 54.69,690.22 52.36,688.27 C50.02,686.32 47.49,683.01 45.35,681.26 C43.20,679.51 40.48,678.34 39.50,677.76 Z" fill="#ffd000" fill-opacity="0.8" stroke="none"/><path d="M39.50,634.53 C40.19,635.21 44.12,638.87 45.35,640.37 C46.57,641.87 48.93,646.16 50.02,647.38 C51.11,648.61 53.60,650.62 54.69,650.89 C55.78,651.16 58.14,650.54 59.36,649.72 C60.59,648.90 63.84,644.42 65.21,643.88 C66.57,643.33 69.55,644.50 71.05,645.05 C72.55,645.59 76.15,648.82 78.06,648.55 C79.96,648.28 85.49,642.98 87.40,642.71 C89.31,642.44 92.91,645.62 94.41,646.21 C95.91,646.81 98.89,648.04 100.25,647.85 C101.62,647.66 104.87,644.85 106.09,644.58 C107.32,644.31 109.40,644.97 110.77,645.51 C112.13,646.06 116.14,649.31 117.78,649.25 C119.41,649.20 123.15,646.22 124.79,645.05 C126.42,643.87 130.16,640.02 131.79,639.21 C133.43,638.39 137.44,638.23 138.80,638.04 C140.17,637.85 142.25,637.90 143.48,637.57 C144.70,637.24 147.68,634.91 149.32,635.23 C150.95,635.56 155.72,639.64 157.50,640.37 C159.27,641.11 162.87,641.68 164.50,641.54 C166.14,641.41 170.15,639.40 171.51,639.21 C172.88,639.01 175.10,640.37 176.19,639.91 C177.28,639.44 179.60,635.40 180.86,635.23 C182.12,635.07 185.47,637.96 187.01,638.50 C188.54,639.05 192.38,639.42 194.02,639.91 C195.65,640.40 199.53,642.17 201.03,642.71 C202.53,643.26 205.51,644.72 206.87,644.58 C208.23,644.44 211.35,642.17 212.71,641.54 C214.07,640.92 217.19,640.02 218.55,639.21 C219.91,638.39 223.17,635.43 224.39,634.53 C225.62,633.63 227.70,631.50 229.07,631.50 C230.43,631.50 234.44,634.10 236.07,634.53 C237.71,634.97 241.86,635.37 243.08,635.23 C244.31,635.10 245.50,632.76 246.59,633.36 C247.68,633.96 250.93,638.87 252.43,640.37 C253.93,641.87 257.80,644.99 259.44,646.21 C261.07,647.44 264.81,649.66 266.45,650.89 C268.08,652.11 271.55,655.91 273.46,656.73 C275.37,657.55 281.17,658.03 282.80,657.90 C284.44,657.76 286.11,656.51 287.48,655.56 C288.84,654.61 292.85,650.54 294.49,649.72 C296.12,648.90 300.13,648.55 301.50,648.55 C302.86,648.55 304.81,649.91 306.17,649.72 C307.53,649.53 311.54,647.05 313.18,646.92 C314.81,646.78 318.57,648.01 320.19,648.55 C321.80,649.10 325.40,651.13 327.01,651.59 C328.62,652.05 332.38,653.07 334.02,652.52 C335.65,651.98 339.39,647.84 341.03,646.92 C342.66,645.99 346.40,644.47 348.04,644.58 C349.67,644.69 353.14,646.84 355.05,647.85 C356.95,648.86 362.62,652.87 364.39,653.22 C366.16,653.58 368.60,652.11 370.23,650.89 C371.87,649.66 376.64,643.72 378.41,642.71 C380.18,641.70 383.51,641.97 385.42,642.24 C387.33,642.52 392.86,644.86 394.77,645.05 C396.67,645.24 400.00,644.21 401.78,643.88 C403.55,643.55 408.32,641.97 409.95,642.24 C411.59,642.52 414.30,645.48 415.79,646.21 C417.29,646.95 421.17,648.63 422.80,648.55 C424.44,648.47 427.90,646.14 429.81,645.51 C431.72,644.89 437.25,643.18 439.16,643.18 C441.07,643.18 444.53,645.08 446.17,645.51 C447.80,645.95 451.27,646.64 453.18,646.92 C455.09,647.19 460.80,648.51 462.52,647.85 C464.25,647.19 466.39,642.48 467.94,641.25 C469.50,640.02 474.34,637.59 475.89,637.28 C477.43,636.97 479.64,637.61 481.19,638.60 C482.73,639.59 487.28,644.83 489.13,645.75 C490.99,646.68 495.22,646.95 497.08,646.55 C498.93,646.14 503.17,643.48 505.02,642.31 C506.88,641.14 510.80,637.94 512.97,636.48 C515.13,635.03 521.40,630.33 523.56,629.86 C525.72,629.40 529.65,631.83 531.50,632.51 C533.36,633.19 536.98,635.13 539.45,635.69 C541.92,636.24 550.37,637.49 552.69,637.28 C555.01,637.06 557.46,634.45 559.31,633.83 C561.17,633.22 566.57,632.04 568.58,631.98 C570.59,631.92 574.36,632.93 576.53,633.31 C578.69,633.68 584.96,634.63 587.12,635.16 C589.28,635.68 593.21,637.19 595.06,637.81 C596.92,638.43 600.85,640.05 603.01,640.46 C605.17,640.86 611.75,641.56 613.60,641.25 C615.46,640.94 617.51,638.30 618.90,637.81 C620.29,637.31 624.75,637.11 625.52,637.01" stroke="#ff4040" stroke-opacity="0.85" stroke-width="1.15" fill="none"/><path d="M39.50,692.94 C40.05,693.30 43.09,695.08 44.18,695.98 C45.27,696.88 47.90,700.46 48.85,700.65 C49.80,700.85 51.26,696.88 52.36,697.62 C53.45,698.35 56.70,705.05 58.20,706.96 C59.70,708.87 63.71,713.56 65.21,713.97 C66.70,714.38 69.68,711.83 71.05,710.47 C72.41,709.10 75.52,704.74 76.89,702.29 C78.25,699.84 81.50,691.21 82.73,689.44 C83.96,687.67 86.04,687.70 87.40,687.10 C88.76,686.50 92.91,684.44 94.41,684.30 C95.91,684.16 98.89,685.20 100.25,685.93 C101.62,686.67 104.46,689.24 106.09,690.61 C107.73,691.97 112.64,697.21 114.27,697.62 C115.91,698.03 118.89,694.93 120.11,694.11 C121.34,693.29 123.42,691.43 124.79,690.61 C126.15,689.79 130.16,688.11 131.79,687.10 C133.43,686.09 137.44,683.05 138.80,681.96 C140.17,680.87 142.11,678.47 143.48,677.76 C144.84,677.05 149.26,675.89 150.49,675.89 C151.71,675.89 153.17,676.31 153.99,677.76 C154.81,679.20 156.40,686.50 157.50,688.27 C158.59,690.04 162.25,691.99 163.34,692.94 C164.43,693.90 165.89,697.13 166.84,696.45 C167.80,695.77 170.42,688.47 171.51,687.10 C172.60,685.74 175.10,685.31 176.19,684.77 C177.28,684.22 179.60,682.38 180.86,682.43 C182.12,682.48 185.47,684.63 187.01,685.23 C188.54,685.83 192.11,686.26 194.02,687.57 C195.93,688.88 201.46,694.87 203.36,696.45 C205.27,698.03 208.74,700.17 210.37,701.12 C212.01,702.08 215.75,704.76 217.38,704.63 C219.02,704.49 222.76,700.77 224.39,699.95 C226.03,699.14 229.77,697.62 231.40,697.62 C233.04,697.62 236.64,698.73 238.41,699.95 C240.18,701.18 244.68,707.31 246.59,708.13 C248.50,708.95 252.99,707.64 254.77,706.96 C256.54,706.28 260.14,702.97 261.78,702.29 C263.41,701.61 266.88,701.80 268.79,701.12 C270.69,700.44 275.68,697.05 278.13,696.45 C280.58,695.85 287.36,696.66 289.81,695.98 C292.27,695.30 297.25,691.37 299.16,690.61 C301.07,689.84 304.53,689.85 306.17,689.44 C307.80,689.03 311.54,687.51 313.18,687.10 C314.81,686.69 318.57,686.15 320.19,685.93 C321.80,685.72 325.40,684.88 327.01,685.23 C328.62,685.59 332.66,688.62 334.02,688.97 C335.38,689.33 337.60,687.94 338.69,688.27 C339.78,688.60 342.00,691.78 343.36,691.78 C344.73,691.78 348.74,688.76 350.37,688.27 C352.01,687.78 356.16,687.30 357.38,687.57 C358.61,687.84 359.52,690.53 360.89,690.61 C362.25,690.69 367.29,689.09 369.07,688.27 C370.84,687.45 374.44,684.61 376.07,683.60 C377.71,682.59 381.45,679.90 383.08,679.63 C384.72,679.35 388.46,680.93 390.09,681.26 C391.73,681.59 395.74,682.24 397.10,682.43 C398.47,682.62 400.41,683.22 401.78,682.90 C403.14,682.57 407.15,679.90 408.79,679.63 C410.42,679.35 414.16,680.64 415.79,680.56 C417.43,680.48 421.17,679.39 422.80,678.93 C424.44,678.46 427.90,677.00 429.81,676.59 C431.72,676.18 437.25,675.23 439.16,675.42 C441.07,675.61 444.26,677.73 446.17,678.22 C448.08,678.71 453.61,679.41 455.51,679.63 C457.42,679.84 461.07,679.94 462.52,680.09 C463.97,680.25 466.39,680.04 467.94,680.97 C469.50,681.91 474.04,687.14 475.89,688.12 C477.74,689.11 482.29,690.22 483.83,689.45 C485.38,688.68 487.90,682.28 489.13,681.50 C490.37,680.73 492.88,682.36 494.43,682.83 C495.97,683.29 500.52,686.40 502.37,685.48 C504.23,684.55 508.77,676.95 510.32,674.88 C511.86,672.81 514.07,668.66 515.61,667.73 C517.16,666.81 521.71,667.34 523.56,666.94 C525.41,666.54 529.96,664.29 531.50,664.29 C533.05,664.29 535.72,666.78 536.80,666.94 C537.88,667.09 539.69,664.53 540.77,665.61 C541.85,666.70 544.53,674.60 546.07,676.21 C547.61,677.81 552.62,679.23 554.01,679.39 C555.41,679.54 556.91,677.35 557.99,677.53 C559.07,677.72 561.74,681.07 563.28,680.97 C564.83,680.88 569.53,677.85 571.23,676.74 C572.93,675.62 576.30,671.87 577.85,671.44 C579.39,671.01 582.77,672.23 584.47,673.03 C586.17,673.83 590.25,677.89 592.42,678.33 C594.58,678.76 600.85,676.61 603.01,676.74 C605.17,676.86 609.10,678.46 610.95,679.39 C612.81,680.31 617.20,683.82 618.90,684.68 C620.60,685.55 624.75,686.55 625.52,686.80" stroke="#ff4040" stroke-opacity="0.85" stroke-width="1.15" fill="none"/><path d="M40.0,664.90H625.1" stroke="#303030" stroke-opacity="0.7" stroke-width="1" fill="none"/><path d="M39.50,659.53 C40.05,659.70 42.95,660.04 44.18,660.93 C45.40,661.83 48.52,665.55 50.02,667.24 C51.52,668.93 55.53,674.25 57.03,675.42 C58.53,676.59 61.37,677.15 62.87,677.29 C64.37,677.43 68.38,677.22 69.88,676.59 C71.38,675.96 74.08,673.20 75.72,671.92 C77.36,670.63 82.13,666.34 83.90,665.61 C85.67,664.87 89.41,665.42 90.91,665.61 C92.41,665.80 95.25,667.19 96.75,667.24 C98.25,667.30 101.71,665.61 103.76,666.07 C105.80,666.54 112.09,671.21 114.27,671.21 C116.45,671.21 120.40,667.44 122.45,666.07 C124.49,664.71 129.61,660.49 131.79,659.53 C133.98,658.58 138.96,658.50 141.14,657.90 C143.32,657.30 148.31,654.26 150.49,654.39 C152.67,654.53 157.65,658.11 159.83,659.07 C162.01,660.02 167.00,662.43 169.18,662.57 C171.36,662.71 176.72,660.70 178.52,660.23 C180.33,659.77 183.14,658.46 184.67,658.60 C186.21,658.73 190.05,660.67 191.68,661.40 C193.32,662.14 197.06,663.95 198.69,664.91 C200.33,665.86 203.79,668.76 205.70,669.58 C207.61,670.40 213.14,672.05 215.05,671.92 C216.95,671.78 220.42,669.15 222.06,668.41 C223.69,667.68 227.43,665.88 229.07,665.61 C230.70,665.33 234.44,665.48 236.07,666.07 C237.71,666.67 241.45,669.52 243.08,670.75 C244.72,671.97 248.46,675.91 250.09,676.59 C251.73,677.27 255.74,676.67 257.10,676.59 C258.47,676.51 260.41,675.34 261.78,675.89 C263.14,676.43 266.88,680.83 268.79,681.26 C270.69,681.70 275.95,680.25 278.13,679.63 C280.31,679.00 285.30,676.79 287.48,675.89 C289.66,674.99 294.64,672.57 296.82,671.92 C299.00,671.26 303.99,670.74 306.17,670.28 C308.35,669.82 313.61,668.03 315.51,667.94 C317.42,667.86 321.18,669.39 322.52,669.58 C323.86,669.77 325.67,669.58 327.01,669.58 C328.35,669.58 332.38,669.85 334.02,669.58 C335.65,669.31 339.39,667.65 341.03,667.24 C342.66,666.83 346.40,665.88 348.04,666.07 C349.67,666.27 353.14,668.33 355.05,668.88 C356.95,669.42 362.62,671.07 364.39,670.75 C366.16,670.42 368.60,667.22 370.23,666.07 C371.87,664.93 376.37,661.21 378.41,660.93 C380.46,660.66 385.85,663.55 387.76,663.74 C389.67,663.93 393.13,662.98 394.77,662.57 C396.40,662.16 400.14,660.70 401.78,660.23 C403.41,659.77 407.15,658.41 408.79,658.60 C410.42,658.79 414.16,661.27 415.79,661.87 C417.43,662.47 421.17,663.85 422.80,663.74 C424.44,663.63 427.90,661.53 429.81,660.93 C431.72,660.33 437.11,658.68 439.16,658.60 C441.20,658.52 445.43,659.69 447.34,660.23 C449.24,660.78 453.47,663.00 455.51,663.27 C457.56,663.54 463.10,662.67 464.86,662.57 C466.62,662.47 468.69,662.39 470.59,662.44 C472.50,662.48 479.02,662.84 481.19,662.97 C483.35,663.09 487.28,663.34 489.13,663.50 C490.99,663.65 495.22,664.66 497.08,664.29 C498.93,663.92 503.17,661.55 505.02,660.32 C506.88,659.08 511.11,655.09 512.97,653.70 C514.82,652.31 519.06,649.11 520.91,648.40 C522.76,647.69 526.69,647.39 528.86,647.61 C531.02,647.82 537.29,649.54 539.45,650.25 C541.61,650.96 545.23,652.99 547.39,653.70 C549.56,654.41 555.82,656.04 557.99,656.35 C560.15,656.65 563.46,656.96 565.93,656.35 C568.40,655.73 576.70,651.45 579.17,651.05 C581.65,650.65 585.26,652.13 587.12,652.90 C588.97,653.67 593.21,656.96 595.06,657.67 C596.92,658.38 601.46,659.06 603.01,658.99 C604.55,658.93 606.76,657.05 608.31,657.14 C609.85,657.23 614.24,658.95 616.25,659.79 C618.26,660.62 624.44,663.77 625.52,664.29" stroke="#0000ff" stroke-width="1.4" fill="none"/><path d="M39.74,678.58 C40.76,676.93 47.01,666.21 48.46,664.38 C49.91,662.55 50.75,662.01 52.20,662.88 C53.65,663.75 59.26,670.43 60.92,671.85 C62.58,673.28 65.39,674.83 66.40,675.09 C67.42,675.36 68.54,675.14 69.64,674.10 C70.75,673.05 74.22,668.21 75.88,666.12 C77.53,664.03 82.40,657.29 83.85,656.15 C85.30,655.02 86.65,656.02 88.34,656.40 C90.02,656.78 96.71,659.04 98.31,659.39 C99.90,659.74 100.59,659.80 102.04,659.39 C103.50,658.99 109.23,656.37 110.77,655.90 C112.31,655.44 113.94,655.32 115.25,655.40 C116.56,655.49 120.18,656.91 121.98,656.65 C123.78,656.39 129.02,653.63 130.70,653.16 C132.39,652.70 135.27,652.31 136.44,652.66 C137.60,653.01 139.16,654.79 140.67,656.15 C142.18,657.52 147.94,663.36 149.40,664.38 C150.85,665.39 151.68,665.25 153.13,664.88 C154.59,664.50 160.11,661.69 161.86,661.14 C163.60,660.58 166.78,660.20 168.09,660.14 C169.40,660.08 171.76,660.23 173.07,660.64 C174.38,661.05 177.56,662.55 179.30,663.63 C181.05,664.71 186.20,668.90 188.02,669.86 C189.85,670.82 193.59,671.85 194.98,671.85 C196.38,671.85 198.52,670.82 199.97,669.86 C201.42,668.90 205.70,664.97 207.45,663.63 C209.19,662.29 213.47,659.04 214.92,658.40 C216.38,657.76 218.74,657.74 219.91,658.15 C221.07,658.55 223.58,660.23 224.89,661.88 C226.20,663.54 229.67,669.53 231.12,672.35 C232.58,675.17 236.13,683.94 237.35,686.06 C238.57,688.18 240.66,690.34 241.59,690.55 C242.52,690.75 244.28,688.91 245.33,687.80 C246.37,686.70 249.40,682.24 250.56,681.07 C251.72,679.91 254.22,677.92 255.30,677.83 C256.37,677.75 258.74,679.60 259.78,680.33 C260.83,681.05 263.25,683.63 264.27,684.07 C265.29,684.50 267.43,684.71 268.50,684.07 C269.58,683.43 272.04,680.53 273.49,678.58 C274.94,676.63 279.51,669.26 280.97,667.37 C282.42,665.48 284.79,662.96 285.95,662.38 C287.11,661.80 289.34,661.74 290.93,662.38 C292.53,663.02 298.06,667.23 299.66,667.87 C301.26,668.51 303.48,668.16 304.64,667.87 C305.80,667.58 307.88,665.87 309.63,665.37 C311.37,664.88 317.71,664.04 319.60,663.63 C321.48,663.22 324.52,662.52 325.83,661.88 C327.13,661.25 329.36,659.63 330.81,658.15 C332.26,656.66 336.83,650.92 338.29,649.17 C339.74,647.43 341.76,644.07 343.27,643.19 C344.78,642.32 349.27,641.70 351.21,641.70 C353.16,641.70 357.76,642.61 359.94,643.19 C362.12,643.77 367.87,645.90 369.91,646.68 C371.94,647.47 375.78,649.31 377.38,649.92 C378.98,650.53 382.31,651.71 383.61,651.92 C384.92,652.12 386.85,651.99 388.60,651.67 C390.34,651.35 396.82,649.61 398.57,649.17 C400.31,648.74 402.24,648.48 403.55,647.93 C404.86,647.38 408.53,644.90 409.78,644.44 C411.03,643.97 412.96,643.59 414.27,643.94 C415.58,644.29 419.34,646.01 421.00,647.43 C422.65,648.85 426.73,654.35 428.47,656.15 C430.22,657.96 434.58,662.10 435.95,662.88 C437.32,663.67 438.73,663.58 440.19,662.88 C441.64,662.18 446.87,657.69 448.41,656.90 C449.95,656.12 452.09,655.95 453.40,656.15 C454.70,656.36 458.09,658.01 459.63,658.64 C461.17,659.28 465.15,661.26 466.60,661.64 C468.06,662.01 471.01,662.00 472.09,661.88 C473.16,661.77 474.81,661.22 475.83,660.64 C476.84,660.06 479.36,657.63 480.81,656.90 C482.26,656.17 486.83,654.70 488.29,654.41 C489.74,654.12 492.18,654.55 493.27,654.41 C494.36,654.26 496.11,653.64 497.63,653.16 C499.16,652.68 504.45,651.27 506.35,650.32 C508.26,649.38 512.08,645.98 513.99,645.09 C515.89,644.20 520.93,642.64 522.71,642.69 C524.49,642.74 527.60,644.43 529.25,645.53 C530.90,646.62 534.97,650.87 536.88,652.07 C538.79,653.27 543.57,655.06 545.60,655.78 C547.64,656.49 552.29,658.35 554.33,658.17 C556.36,658.00 562.03,654.71 563.05,654.25" stroke="#000" stroke-width="1.8" fill="none" stroke-linejoin="round"/><path d="M40.00,599.90V729.90M625.10,599.90V729.90" stroke="#262626" stroke-width="1.15" fill="none"/><path d="M39.45,600.45H625.65M39.45,729.35H625.65" stroke="#484848" stroke-width="1.05" fill="none"/><path d="M37.4,729.35H40.0M37.4,713.24H40.0M37.4,697.12H40.0M37.4,681.01H40.0M37.4,664.90H40.0M37.4,648.79H40.0M37.4,632.68H40.0M37.4,616.56H40.0M37.4,600.45H40.0M92.40,729.4V732.0M154.05,729.4V732.0M224.50,729.4V732.0M286.15,729.4V732.0M361.00,729.4V732.0M422.65,729.4V732.0M497.51,729.4V732.0M559.15,729.4V732.0M620.80,729.4V732.0" stroke="#3a3a3a" stroke-width="0.9" fill="none"/><text x="34.7" y="732.15" text-anchor="end" font-family='"Liberation Sans", sans-serif' font-size="8.4" fill="#1a1a1a" stroke="#1a1a1a" stroke-width="0.08">−4</text><text x="34.7" y="716.04" text-anchor="end" font-family='"Liberation Sans", sans-serif' font-size="8.4" fill="#1a1a1a" stroke="#1a1a1a" stroke-width="0.08">−3</text><text x="34.7" y="699.92" text-anchor="end" font-family='"Liberation Sans", sans-serif' font-size="8.4" fill="#1a1a1a" stroke="#1a1a1a" stroke-width="0.08">−2</text><text x="34.7" y="683.81" text-anchor="end" font-family='"Liberation Sans", sans-serif' font-size="8.4" fill="#1a1a1a" stroke="#1a1a1a" stroke-width="0.08">−1</text><text x="34.7" y="667.70" text-anchor="end" font-family='"Liberation Sans", sans-serif' font-size="8.4" fill="#1a1a1a" stroke="#1a1a1a" stroke-width="0.08">0</text><text x="34.7" y="651.59" text-anchor="end" font-family='"Liberation Sans", sans-serif' font-size="8.4" fill="#1a1a1a" stroke="#1a1a1a" stroke-width="0.08">1</text><text x="34.7" y="635.48" text-anchor="end" font-family='"Liberation Sans", sans-serif' font-size="8.4" fill="#1a1a1a" stroke="#1a1a1a" stroke-width="0.08">2</text><text x="34.7" y="619.36" text-anchor="end" font-family='"Liberation Sans", sans-serif' font-size="8.4" fill="#1a1a1a" stroke="#1a1a1a" stroke-width="0.08">3</text><text x="34.7" y="603.25" text-anchor="end" font-family='"Liberation Sans", sans-serif' font-size="8.4" fill="#1a1a1a" stroke="#1a1a1a" stroke-width="0.08">4</text><text x="92.40" y="740.85" text-anchor="middle" font-family='"Liberation Sans", sans-serif' font-size="8.4" fill="#1a1a1a" stroke="#1a1a1a" stroke-width="0.08">01 Nov</text><text x="154.05" y="740.85" text-anchor="middle" font-family='"Liberation Sans", sans-serif' font-size="8.4" fill="#1a1a1a" stroke="#1a1a1a" stroke-width="0.08">15 Nov</text><text x="224.50" y="740.85" text-anchor="middle" font-family='"Liberation Sans", sans-serif' font-size="8.4" fill="#1a1a1a" stroke="#1a1a1a" stroke-width="0.08">01 Dec</text><text x="286.15" y="740.85" text-anchor="middle" font-family='"Liberation Sans", sans-serif' font-size="8.4" fill="#1a1a1a" stroke="#1a1a1a" stroke-width="0.08">15 Dec</text><text x="361.00" y="740.85" text-anchor="middle" font-family='"Liberation Sans", sans-serif' font-size="8.4" fill="#1a1a1a" stroke="#1a1a1a" stroke-width="0.08">01 Jan</text><text x="422.65" y="740.85" text-anchor="middle" font-family='"Liberation Sans", sans-serif' font-size="8.4" fill="#1a1a1a" stroke="#1a1a1a" stroke-width="0.08">15 Jan</text><text x="497.51" y="740.85" text-anchor="middle" font-family='"Liberation Sans", sans-serif' font-size="8.4" fill="#1a1a1a" stroke="#1a1a1a" stroke-width="0.08">01 Feb</text><text x="559.15" y="740.85" text-anchor="middle" font-family='"Liberation Sans", sans-serif' font-size="8.4" fill="#1a1a1a" stroke="#1a1a1a" stroke-width="0.08">15 Feb</text><text x="620.80" y="740.85" text-anchor="middle" font-family='"Liberation Sans", sans-serif' font-size="8.4" fill="#1a1a1a" stroke="#1a1a1a" stroke-width="0.08">01 Mar</text><text x="40.2" y="595.95" font-family='"Liberation Sans", sans-serif' font-size="14.8" fill="#000" stroke="#000" stroke-width="0.05" textLength="181.0" lengthAdjust="spacingAndGlyphs">500mb Z (14 day Forecast)</text><text x="431.00" y="595.75" font-family='"Liberation Sans", sans-serif' font-size="14.8" fill="#000" stroke="#000" stroke-width="0.05" textLength="193.5" lengthAdjust="spacingAndGlyphs">mean=0.0029; cor(w/obs)=0.5224</text><text x="0" y="0" transform="translate(18.3,666.80) rotate(-90)" text-anchor="middle" font-family='"Liberation Sans", sans-serif' font-size="13.6" fill="#000" textLength="31.8" lengthAdjust="spacingAndGlyphs">Index</text></g>
</svg>
</body></html>
